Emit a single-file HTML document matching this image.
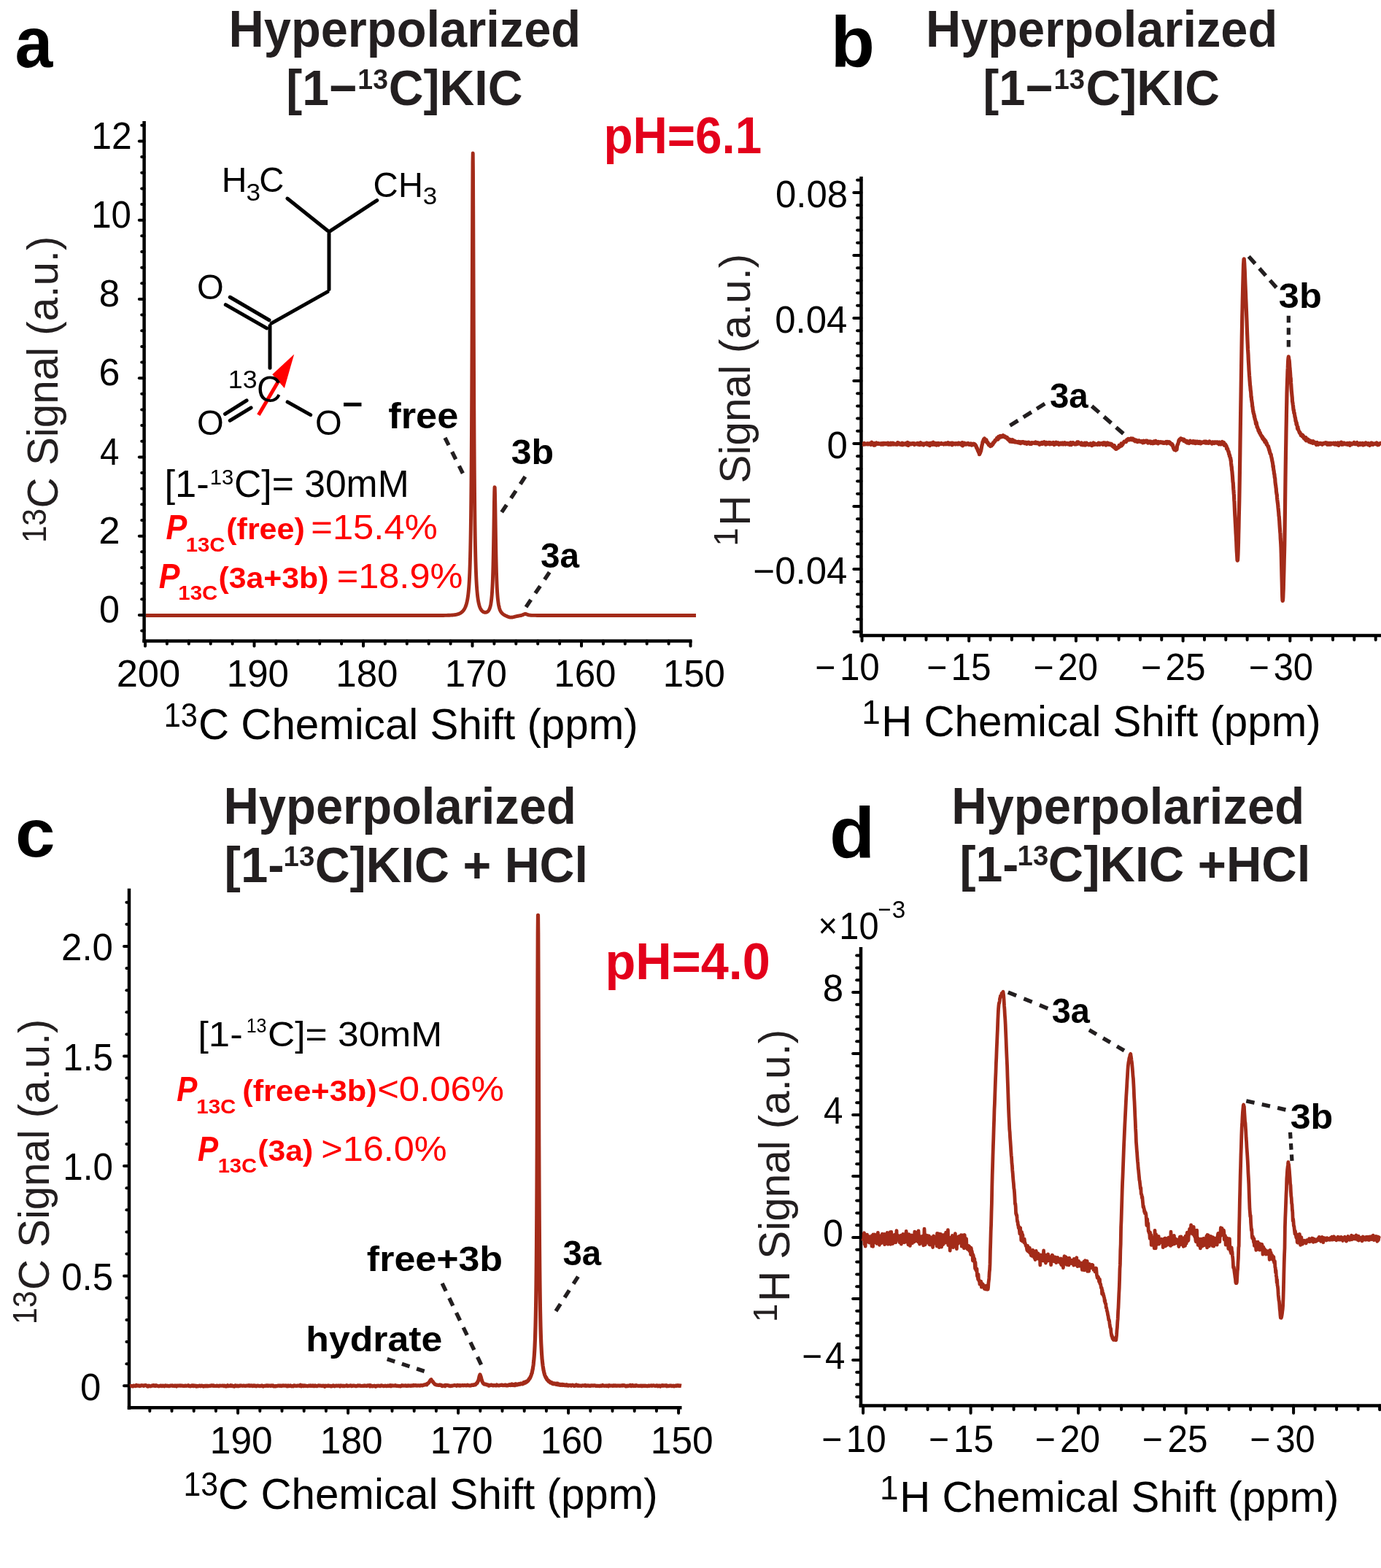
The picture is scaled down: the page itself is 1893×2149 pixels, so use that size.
<!DOCTYPE html>
<html><head><meta charset="utf-8"><title>Hyperpolarized [1-13C]KIC spectra</title>
<style>
html,body{margin:0;padding:0;background:#fff;}
svg{display:block;}
text{font-family:"Liberation Sans", Arial, Helvetica, sans-serif;}
</style></head>
<body>
<svg width="1893" height="2149" viewBox="0 0 1893 2149">
<rect width="1893" height="2149" fill="#fff"/>
<text x="20.51" y="91.91" font-size="98.63" font-weight="bold" textLength="51.80" lengthAdjust="spacingAndGlyphs">a</text>
<text x="313.49" y="63.80" font-size="69.60" font-weight="bold" fill="#231f20" textLength="482.68" lengthAdjust="spacingAndGlyphs">Hyperpolarized</text>
<text x="392.27" y="143.50" font-size="68.50" font-weight="bold" fill="#231f20" textLength="97.32" lengthAdjust="spacingAndGlyphs">[1−</text>
<text x="490.36" y="121.60" font-size="39.00" font-weight="bold" fill="#231f20" textLength="41.64" lengthAdjust="spacingAndGlyphs">13</text>
<text x="532.86" y="143.50" font-size="68.50" font-weight="bold" fill="#231f20" textLength="183.56" lengthAdjust="spacingAndGlyphs">C]KIC</text>
<text x="827.54" y="210.00" font-size="70.00" font-weight="bold" fill="#e3001b" textLength="216.60" lengthAdjust="spacingAndGlyphs">pH=6.1</text>
<line x1="197.60" y1="166.00" x2="197.60" y2="880.50" stroke="#000" stroke-width="4.5" />
<line x1="190.80" y1="842.90" x2="197.60" y2="842.90" stroke="#000" stroke-width="4" stroke-linecap="round"/>
<line x1="190.80" y1="734.66" x2="197.60" y2="734.66" stroke="#000" stroke-width="4" stroke-linecap="round"/>
<line x1="190.80" y1="626.42" x2="197.60" y2="626.42" stroke="#000" stroke-width="4" stroke-linecap="round"/>
<line x1="190.80" y1="518.18" x2="197.60" y2="518.18" stroke="#000" stroke-width="4" stroke-linecap="round"/>
<line x1="190.80" y1="409.94" x2="197.60" y2="409.94" stroke="#000" stroke-width="4" stroke-linecap="round"/>
<line x1="190.80" y1="301.70" x2="197.60" y2="301.70" stroke="#000" stroke-width="4" stroke-linecap="round"/>
<line x1="190.80" y1="193.46" x2="197.60" y2="193.46" stroke="#000" stroke-width="4" stroke-linecap="round"/>
<line x1="194.20" y1="864.55" x2="197.60" y2="864.55" stroke="#000" stroke-width="4" stroke-linecap="round"/>
<line x1="194.20" y1="821.25" x2="197.60" y2="821.25" stroke="#000" stroke-width="4" stroke-linecap="round"/>
<line x1="194.20" y1="799.60" x2="197.60" y2="799.60" stroke="#000" stroke-width="4" stroke-linecap="round"/>
<line x1="194.20" y1="777.96" x2="197.60" y2="777.96" stroke="#000" stroke-width="4" stroke-linecap="round"/>
<line x1="194.20" y1="756.31" x2="197.60" y2="756.31" stroke="#000" stroke-width="4" stroke-linecap="round"/>
<line x1="194.20" y1="713.01" x2="197.60" y2="713.01" stroke="#000" stroke-width="4" stroke-linecap="round"/>
<line x1="194.20" y1="691.36" x2="197.60" y2="691.36" stroke="#000" stroke-width="4" stroke-linecap="round"/>
<line x1="194.20" y1="669.72" x2="197.60" y2="669.72" stroke="#000" stroke-width="4" stroke-linecap="round"/>
<line x1="194.20" y1="648.07" x2="197.60" y2="648.07" stroke="#000" stroke-width="4" stroke-linecap="round"/>
<line x1="194.20" y1="604.77" x2="197.60" y2="604.77" stroke="#000" stroke-width="4" stroke-linecap="round"/>
<line x1="194.20" y1="583.12" x2="197.60" y2="583.12" stroke="#000" stroke-width="4" stroke-linecap="round"/>
<line x1="194.20" y1="561.48" x2="197.60" y2="561.48" stroke="#000" stroke-width="4" stroke-linecap="round"/>
<line x1="194.20" y1="539.83" x2="197.60" y2="539.83" stroke="#000" stroke-width="4" stroke-linecap="round"/>
<line x1="194.20" y1="496.53" x2="197.60" y2="496.53" stroke="#000" stroke-width="4" stroke-linecap="round"/>
<line x1="194.20" y1="474.88" x2="197.60" y2="474.88" stroke="#000" stroke-width="4" stroke-linecap="round"/>
<line x1="194.20" y1="453.24" x2="197.60" y2="453.24" stroke="#000" stroke-width="4" stroke-linecap="round"/>
<line x1="194.20" y1="431.59" x2="197.60" y2="431.59" stroke="#000" stroke-width="4" stroke-linecap="round"/>
<line x1="194.20" y1="388.29" x2="197.60" y2="388.29" stroke="#000" stroke-width="4" stroke-linecap="round"/>
<line x1="194.20" y1="366.64" x2="197.60" y2="366.64" stroke="#000" stroke-width="4" stroke-linecap="round"/>
<line x1="194.20" y1="345.00" x2="197.60" y2="345.00" stroke="#000" stroke-width="4" stroke-linecap="round"/>
<line x1="194.20" y1="323.35" x2="197.60" y2="323.35" stroke="#000" stroke-width="4" stroke-linecap="round"/>
<line x1="194.20" y1="280.05" x2="197.60" y2="280.05" stroke="#000" stroke-width="4" stroke-linecap="round"/>
<line x1="194.20" y1="258.40" x2="197.60" y2="258.40" stroke="#000" stroke-width="4" stroke-linecap="round"/>
<line x1="194.20" y1="236.76" x2="197.60" y2="236.76" stroke="#000" stroke-width="4" stroke-linecap="round"/>
<line x1="194.20" y1="215.11" x2="197.60" y2="215.11" stroke="#000" stroke-width="4" stroke-linecap="round"/>
<line x1="194.20" y1="171.81" x2="197.60" y2="171.81" stroke="#000" stroke-width="4" stroke-linecap="round"/>
<line x1="195.40" y1="878.40" x2="948.50" y2="878.40" stroke="#000" stroke-width="4.5" />
<line x1="199.00" y1="878.40" x2="199.00" y2="885.40" stroke="#000" stroke-width="4" stroke-linecap="round"/>
<line x1="348.50" y1="878.40" x2="348.50" y2="885.40" stroke="#000" stroke-width="4" stroke-linecap="round"/>
<line x1="498.00" y1="878.40" x2="498.00" y2="885.40" stroke="#000" stroke-width="4" stroke-linecap="round"/>
<line x1="647.50" y1="878.40" x2="647.50" y2="885.40" stroke="#000" stroke-width="4" stroke-linecap="round"/>
<line x1="797.00" y1="878.40" x2="797.00" y2="885.40" stroke="#000" stroke-width="4" stroke-linecap="round"/>
<line x1="946.50" y1="878.40" x2="946.50" y2="885.40" stroke="#000" stroke-width="4" stroke-linecap="round"/>
<line x1="228.90" y1="878.40" x2="228.90" y2="882.40" stroke="#000" stroke-width="4" stroke-linecap="round"/>
<line x1="258.80" y1="878.40" x2="258.80" y2="882.40" stroke="#000" stroke-width="4" stroke-linecap="round"/>
<line x1="288.70" y1="878.40" x2="288.70" y2="882.40" stroke="#000" stroke-width="4" stroke-linecap="round"/>
<line x1="318.60" y1="878.40" x2="318.60" y2="882.40" stroke="#000" stroke-width="4" stroke-linecap="round"/>
<line x1="378.40" y1="878.40" x2="378.40" y2="882.40" stroke="#000" stroke-width="4" stroke-linecap="round"/>
<line x1="408.30" y1="878.40" x2="408.30" y2="882.40" stroke="#000" stroke-width="4" stroke-linecap="round"/>
<line x1="438.20" y1="878.40" x2="438.20" y2="882.40" stroke="#000" stroke-width="4" stroke-linecap="round"/>
<line x1="468.10" y1="878.40" x2="468.10" y2="882.40" stroke="#000" stroke-width="4" stroke-linecap="round"/>
<line x1="527.90" y1="878.40" x2="527.90" y2="882.40" stroke="#000" stroke-width="4" stroke-linecap="round"/>
<line x1="557.80" y1="878.40" x2="557.80" y2="882.40" stroke="#000" stroke-width="4" stroke-linecap="round"/>
<line x1="587.70" y1="878.40" x2="587.70" y2="882.40" stroke="#000" stroke-width="4" stroke-linecap="round"/>
<line x1="617.60" y1="878.40" x2="617.60" y2="882.40" stroke="#000" stroke-width="4" stroke-linecap="round"/>
<line x1="677.40" y1="878.40" x2="677.40" y2="882.40" stroke="#000" stroke-width="4" stroke-linecap="round"/>
<line x1="707.30" y1="878.40" x2="707.30" y2="882.40" stroke="#000" stroke-width="4" stroke-linecap="round"/>
<line x1="737.20" y1="878.40" x2="737.20" y2="882.40" stroke="#000" stroke-width="4" stroke-linecap="round"/>
<line x1="767.10" y1="878.40" x2="767.10" y2="882.40" stroke="#000" stroke-width="4" stroke-linecap="round"/>
<line x1="826.90" y1="878.40" x2="826.90" y2="882.40" stroke="#000" stroke-width="4" stroke-linecap="round"/>
<line x1="856.80" y1="878.40" x2="856.80" y2="882.40" stroke="#000" stroke-width="4" stroke-linecap="round"/>
<line x1="886.70" y1="878.40" x2="886.70" y2="882.40" stroke="#000" stroke-width="4" stroke-linecap="round"/>
<line x1="916.60" y1="878.40" x2="916.60" y2="882.40" stroke="#000" stroke-width="4" stroke-linecap="round"/>
<text x="135.99" y="853.10" font-size="51.00" textLength="27.95" lengthAdjust="spacingAndGlyphs">0</text>
<text x="135.36" y="744.86" font-size="51.00" textLength="29.34" lengthAdjust="spacingAndGlyphs">2</text>
<text x="136.93" y="636.62" font-size="51.00" textLength="26.43" lengthAdjust="spacingAndGlyphs">4</text>
<text x="135.41" y="528.38" font-size="51.00" textLength="28.86" lengthAdjust="spacingAndGlyphs">6</text>
<text x="135.83" y="420.14" font-size="51.00" textLength="28.40" lengthAdjust="spacingAndGlyphs">8</text>
<text x="125.21" y="312.30" font-size="51.00" textLength="54.75" lengthAdjust="spacingAndGlyphs">10</text>
<text x="125.16" y="204.06" font-size="51.00" textLength="55.45" lengthAdjust="spacingAndGlyphs">12</text>
<text x="159.67" y="940.60" font-size="52.00" textLength="87.65" lengthAdjust="spacingAndGlyphs">200</text>
<text x="310.77" y="940.60" font-size="52.00" textLength="85.20" lengthAdjust="spacingAndGlyphs">190</text>
<text x="460.27" y="940.60" font-size="52.00" textLength="85.20" lengthAdjust="spacingAndGlyphs">180</text>
<text x="609.77" y="940.60" font-size="52.00" textLength="85.20" lengthAdjust="spacingAndGlyphs">170</text>
<text x="759.27" y="940.60" font-size="52.00" textLength="85.20" lengthAdjust="spacingAndGlyphs">160</text>
<text x="908.77" y="940.60" font-size="52.00" textLength="85.20" lengthAdjust="spacingAndGlyphs">150</text>
<text x="224.79" y="995.80" font-size="46.00" textLength="46.17" lengthAdjust="spacingAndGlyphs">13</text>
<text x="271.98" y="1012.80" font-size="60.00" textLength="602.69" lengthAdjust="spacingAndGlyphs">C Chemical Shift (ppm)</text>
<text transform="translate(79.10 693.50) rotate(-90)" x="-2.92" y="0" font-size="60.00" fill="#231f20" textLength="372.88" lengthAdjust="spacingAndGlyphs">C Signal (a.u.)</text>
<text transform="translate(62.60 740.90) rotate(-90)" x="-3.17" y="0" font-size="46.00" fill="#231f20" textLength="47.07" lengthAdjust="spacingAndGlyphs">13</text>
<path d="M200.00 843.50 L202.00 843.50 L204.00 843.50 L206.00 843.50 L208.00 843.50 L210.00 843.50 L212.00 843.50 L214.00 843.50 L216.00 843.50 L218.00 843.50 L220.00 843.50 L222.00 843.50 L224.00 843.50 L226.00 843.50 L228.00 843.50 L230.00 843.50 L232.00 843.50 L234.00 843.50 L236.00 843.50 L238.00 843.50 L240.00 843.50 L242.00 843.50 L244.00 843.50 L246.00 843.50 L248.00 843.50 L250.00 843.50 L252.00 843.50 L254.00 843.50 L256.00 843.50 L258.00 843.50 L260.00 843.50 L262.00 843.50 L264.00 843.50 L266.00 843.50 L268.00 843.50 L270.00 843.50 L272.00 843.50 L274.00 843.50 L276.00 843.50 L278.00 843.50 L280.00 843.50 L282.00 843.50 L284.00 843.50 L286.00 843.50 L288.00 843.50 L290.00 843.50 L292.00 843.50 L294.00 843.50 L296.00 843.50 L298.00 843.50 L300.00 843.50 L302.00 843.50 L304.00 843.50 L306.00 843.50 L308.00 843.50 L310.00 843.50 L312.00 843.50 L314.00 843.50 L316.00 843.50 L318.00 843.50 L320.00 843.50 L322.00 843.50 L324.00 843.50 L326.00 843.50 L328.00 843.50 L330.00 843.50 L332.00 843.50 L334.00 843.50 L336.00 843.50 L338.00 843.50 L340.00 843.50 L342.00 843.50 L344.00 843.50 L346.00 843.50 L348.00 843.50 L350.00 843.50 L352.00 843.50 L354.00 843.50 L356.00 843.50 L358.00 843.50 L360.00 843.50 L362.00 843.50 L364.00 843.50 L366.00 843.50 L368.00 843.50 L370.00 843.50 L372.00 843.50 L374.00 843.50 L376.00 843.50 L378.00 843.50 L380.00 843.50 L382.00 843.50 L384.00 843.50 L386.00 843.50 L388.00 843.50 L390.00 843.50 L392.00 843.50 L394.00 843.50 L396.00 843.50 L398.00 843.50 L400.00 843.50 L402.00 843.50 L404.00 843.50 L406.00 843.50 L408.00 843.50 L410.00 843.50 L412.00 843.50 L414.00 843.50 L416.00 843.50 L418.00 843.50 L420.00 843.50 L422.00 843.50 L424.00 843.50 L426.00 843.50 L428.00 843.50 L430.00 843.50 L432.00 843.50 L434.00 843.50 L436.00 843.50 L438.00 843.50 L440.00 843.50 L442.00 843.50 L444.00 843.50 L446.00 843.50 L448.00 843.50 L450.00 843.50 L452.00 843.50 L454.00 843.50 L456.00 843.50 L458.00 843.50 L460.00 843.50 L462.00 843.50 L464.00 843.50 L466.00 843.50 L468.00 843.50 L470.00 843.50 L472.00 843.50 L474.00 843.50 L476.00 843.50 L478.00 843.50 L480.00 843.50 L482.00 843.50 L484.00 843.50 L486.00 843.50 L488.00 843.50 L490.00 843.50 L492.00 843.50 L494.00 843.50 L496.00 843.50 L498.00 843.50 L500.00 843.50 L502.00 843.50 L504.00 843.50 L506.00 843.50 L508.00 843.50 L510.00 843.50 L512.00 843.50 L514.00 843.50 L516.00 843.50 L518.00 843.50 L520.00 843.50 L522.00 843.50 L524.00 843.50 L526.00 843.50 L528.00 843.50 L530.00 843.50 L532.00 843.50 L534.00 843.50 L536.00 843.50 L538.00 843.50 L540.00 843.50 L542.00 843.50 L544.00 843.50 L546.00 843.50 L548.00 843.50 L550.00 843.50 L552.00 843.50 L554.00 843.50 L556.00 843.50 L558.00 843.50 L560.00 843.50 L562.00 843.50 L564.00 843.50 L566.00 843.50 L568.00 843.50 L570.00 843.50 L572.00 843.50 L574.00 843.50 L576.00 843.50 L578.00 843.50 L580.00 843.50 L582.00 843.50 L584.00 843.50 L586.00 843.50 L588.00 843.50 L590.00 843.50 L592.00 843.49 L594.00 843.49 L596.00 843.49 L598.00 843.48 L600.00 843.48 L602.00 843.47 L604.00 843.46 L606.00 843.45 L608.00 843.43 L610.00 843.40 L612.00 843.37 L614.00 843.32 L616.00 843.25 L618.00 843.16 L620.00 843.02 L620.25 843.00 L620.50 842.98 L620.75 842.96 L621.00 842.93 L621.25 842.91 L621.50 842.88 L621.75 842.86 L622.00 842.83 L622.25 842.80 L622.50 842.77 L622.75 842.74 L623.00 842.71 L623.25 842.67 L623.50 842.64 L623.75 842.60 L624.00 842.56 L624.25 842.52 L624.50 842.48 L624.75 842.43 L625.00 842.38 L625.25 842.34 L625.50 842.28 L625.75 842.23 L626.00 842.17 L626.25 842.12 L626.50 842.05 L626.75 841.99 L627.00 841.92 L627.25 841.85 L627.50 841.78 L627.75 841.70 L628.00 841.62 L628.25 841.54 L628.50 841.45 L628.75 841.36 L629.00 841.26 L629.25 841.16 L629.50 841.05 L629.75 840.94 L630.00 840.82 L630.25 840.70 L630.50 840.57 L630.75 840.44 L631.00 840.30 L631.25 840.15 L631.50 840.00 L631.75 839.84 L632.00 839.67 L632.25 839.49 L632.50 839.30 L632.75 839.11 L633.00 838.90 L633.25 838.69 L633.50 838.46 L633.75 838.22 L634.00 837.97 L634.25 837.71 L634.50 837.44 L634.75 837.15 L635.00 836.84 L635.25 836.53 L635.50 836.19 L635.75 835.84 L636.00 835.47 L636.25 835.08 L636.50 834.67 L636.75 834.23 L637.00 833.77 L637.25 833.29 L637.50 832.78 L637.75 832.24 L638.00 831.66 L638.25 831.05 L638.50 830.39 L638.75 829.70 L639.00 828.95 L639.25 828.15 L639.50 827.28 L639.75 826.35 L640.00 825.34 L640.25 824.24 L640.50 823.04 L640.75 821.72 L641.00 820.28 L641.25 818.69 L641.50 816.92 L641.75 814.97 L642.00 812.78 L642.25 810.33 L642.50 807.56 L642.75 804.44 L643.00 800.89 L643.25 796.84 L643.50 792.18 L643.75 786.80 L644.00 780.55 L644.25 773.24 L644.50 764.64 L644.75 754.43 L645.00 742.25 L645.25 727.58 L645.50 709.79 L645.75 688.06 L646.00 661.36 L646.25 628.41 L646.50 587.77 L646.75 537.99 L647.00 478.25 L647.25 409.45 L647.50 336.17 L647.75 268.56 L648.00 221.77 L648.25 209.90 L648.50 237.06 L648.75 294.23 L649.00 365.80 L649.25 438.25 L649.50 503.82 L649.75 559.64 L650.00 605.70 L650.25 643.17 L650.50 673.55 L650.75 698.21 L651.00 718.34 L651.25 734.88 L651.50 748.58 L651.75 760.00 L652.00 769.61 L652.25 777.75 L652.50 784.69 L652.75 790.65 L653.00 795.80 L653.25 800.28 L653.50 804.19 L653.75 807.63 L654.00 810.66 L654.25 813.35 L654.50 815.75 L654.75 817.89 L655.00 819.80 L655.25 821.53 L655.50 823.09 L655.75 824.50 L656.00 825.78 L656.25 826.94 L656.50 828.00 L656.75 828.97 L657.00 829.86 L657.25 830.67 L657.50 831.42 L657.75 832.11 L658.00 832.75 L658.25 833.33 L658.50 833.87 L658.75 834.37 L659.00 834.83 L659.25 835.26 L659.50 835.65 L659.75 836.02 L660.00 836.36 L660.25 836.67 L660.50 836.96 L660.75 837.23 L661.00 837.48 L661.25 837.70 L661.50 837.91 L661.75 838.11 L662.00 838.28 L662.25 838.44 L662.50 838.59 L662.75 838.72 L663.00 838.84 L663.25 838.94 L663.50 839.03 L663.75 839.11 L664.00 839.18 L664.25 839.23 L664.50 839.27 L664.75 839.30 L665.00 839.32 L665.25 839.33 L665.50 839.32 L665.75 839.30 L666.00 839.27 L666.25 839.22 L666.50 839.16 L666.75 839.09 L667.00 839.00 L667.25 838.90 L667.50 838.78 L667.75 838.64 L668.00 838.49 L668.25 838.31 L668.50 838.11 L668.75 837.89 L669.00 837.65 L669.25 837.37 L669.50 837.07 L669.75 836.73 L670.00 836.36 L670.25 835.94 L670.50 835.48 L670.75 834.97 L671.00 834.40 L671.25 833.77 L671.50 833.06 L671.75 832.27 L672.00 831.38 L672.25 830.39 L672.50 829.26 L672.75 827.99 L673.00 826.55 L673.25 824.91 L673.50 823.02 L673.75 820.86 L674.00 818.36 L674.25 815.46 L674.50 812.08 L674.75 808.11 L675.00 803.44 L675.25 797.91 L675.50 791.34 L675.75 783.53 L676.00 774.24 L676.25 763.25 L676.50 750.39 L676.75 735.65 L677.00 719.38 L677.25 702.49 L677.50 686.64 L677.75 674.19 L678.00 667.59 L678.25 668.37 L678.50 676.33 L678.75 689.70 L679.00 705.95 L679.25 722.86 L679.50 738.91 L679.75 753.31 L680.00 765.82 L680.25 776.49 L680.50 785.50 L680.75 793.07 L681.00 799.45 L681.25 804.83 L681.50 809.38 L681.75 813.26 L682.00 816.58 L682.25 819.43 L682.50 821.90 L682.75 824.04 L683.00 825.91 L683.25 827.56 L683.50 829.01 L683.75 830.29 L684.00 831.44 L684.25 832.46 L684.50 833.37 L684.75 834.20 L685.00 834.94 L685.25 835.62 L685.50 836.24 L685.75 836.80 L686.00 837.31 L686.25 837.78 L686.50 838.22 L686.75 838.62 L687.00 838.99 L687.25 839.34 L687.50 839.66 L687.75 839.96 L688.00 840.24 L688.25 840.50 L688.50 840.75 L688.75 840.99 L689.00 841.21 L689.25 841.42 L689.50 841.62 L689.75 841.81 L690.00 841.99 L690.25 842.16 L690.50 842.33 L690.75 842.49 L691.00 842.65 L691.25 842.80 L691.50 842.94 L691.75 843.08 L692.00 843.22 L692.25 843.35 L692.50 843.48 L692.75 843.61 L693.00 843.74 L693.25 843.86 L693.50 843.98 L693.75 844.10 L694.00 844.22 L694.25 844.34 L694.50 844.45 L694.75 844.56 L695.00 844.67 L695.25 844.78 L695.50 844.89 L695.75 844.99 L696.00 845.10 L696.25 845.20 L696.50 845.29 L696.75 845.39 L697.00 845.48 L697.25 845.56 L697.50 845.64 L697.75 845.72 L698.00 845.79 L698.25 845.86 L698.50 845.92 L698.75 845.97 L699.00 846.02 L699.25 846.06 L699.50 846.09 L699.75 846.11 L700.00 846.13 L702.00 846.03 L704.00 845.62 L706.00 845.12 L708.00 844.65 L710.00 844.26 L712.00 843.91 L714.00 843.53 L716.00 842.99 L718.00 842.06 L720.00 841.21 L722.00 841.93 L724.00 842.72 L726.00 843.09 L728.00 843.26 L730.00 843.35 L732.00 843.40 L734.00 843.42 L736.00 843.44 L738.00 843.45 L740.00 843.46 L742.00 843.47 L744.00 843.47 L746.00 843.48 L748.00 843.48 L750.00 843.48 L752.00 843.49 L754.00 843.49 L756.00 843.49 L758.00 843.49 L760.00 843.49 L762.00 843.49 L764.00 843.49 L766.00 843.50 L768.00 843.50 L770.00 843.50 L772.00 843.50 L774.00 843.50 L776.00 843.50 L778.00 843.50 L780.00 843.50 L782.00 843.50 L784.00 843.50 L786.00 843.50 L788.00 843.50 L790.00 843.50 L792.00 843.50 L794.00 843.50 L796.00 843.50 L798.00 843.50 L800.00 843.50 L802.00 843.50 L804.00 843.50 L806.00 843.50 L808.00 843.50 L810.00 843.50 L812.00 843.50 L814.00 843.50 L816.00 843.50 L818.00 843.50 L820.00 843.50 L822.00 843.50 L824.00 843.50 L826.00 843.50 L828.00 843.50 L830.00 843.50 L832.00 843.50 L834.00 843.50 L836.00 843.50 L838.00 843.50 L840.00 843.50 L842.00 843.50 L844.00 843.50 L846.00 843.50 L848.00 843.50 L850.00 843.50 L852.00 843.50 L854.00 843.50 L856.00 843.50 L858.00 843.50 L860.00 843.50 L862.00 843.50 L864.00 843.50 L866.00 843.50 L868.00 843.50 L870.00 843.50 L872.00 843.50 L874.00 843.50 L876.00 843.50 L878.00 843.50 L880.00 843.50 L882.00 843.50 L884.00 843.50 L886.00 843.50 L888.00 843.50 L890.00 843.50 L892.00 843.50 L894.00 843.50 L896.00 843.50 L898.00 843.50 L900.00 843.50 L902.00 843.50 L904.00 843.50 L906.00 843.50 L908.00 843.50 L910.00 843.50 L912.00 843.50 L914.00 843.50 L916.00 843.50 L918.00 843.50 L920.00 843.50 L922.00 843.50 L924.00 843.50 L926.00 843.50 L928.00 843.50 L930.00 843.50 L932.00 843.50 L934.00 843.50 L936.00 843.50 L938.00 843.50 L940.00 843.50 L942.00 843.50 L944.00 843.50 L946.00 843.50 L948.00 843.50 L950.00 843.50 L952.00 843.50 L954.00 843.50" fill="none" stroke="#a32b19" stroke-width="4.9" stroke-linejoin="round"/>
<line x1="393.90" y1="272.04" x2="449.20" y2="316.26" stroke="#000" stroke-width="5" stroke-linecap="round"/>
<line x1="452.92" y1="316.44" x2="516.78" y2="274.56" stroke="#000" stroke-width="5" stroke-linecap="round"/>
<line x1="451.00" y1="320.00" x2="451.00" y2="396.50" stroke="#000" stroke-width="5" stroke-linecap="round"/>
<line x1="448.99" y1="399.93" x2="372.01" y2="443.17" stroke="#000" stroke-width="5" stroke-linecap="round"/>
<line x1="315.28" y1="407.26" x2="369.02" y2="438.74" stroke="#000" stroke-width="5" stroke-linecap="round"/>
<line x1="309.30" y1="417.64" x2="365.70" y2="449.86" stroke="#000" stroke-width="5" stroke-linecap="round"/>
<line x1="370.00" y1="446.60" x2="370.00" y2="504.20" stroke="#000" stroke-width="5" stroke-linecap="round"/>
<line x1="308.54" y1="567.47" x2="338.06" y2="548.83" stroke="#000" stroke-width="5" stroke-linecap="round"/>
<line x1="315.26" y1="576.40" x2="344.04" y2="558.80" stroke="#000" stroke-width="5" stroke-linecap="round"/>
<line x1="394.11" y1="550.93" x2="425.69" y2="568.67" stroke="#000" stroke-width="5" stroke-linecap="round"/>
<line x1="354.4" y1="568.7" x2="381" y2="523.5" stroke="#ff0000" stroke-width="5"/>
<polygon points="403.2,485.4 373.3,513.2 389.9,532" fill="#ff0000"/>
<text x="303.73" y="262.60" font-size="49.00" textLength="34.72" lengthAdjust="spacingAndGlyphs">H</text>
<text x="337.48" y="275.00" font-size="33.00" textLength="19.55" lengthAdjust="spacingAndGlyphs">3</text>
<text x="355.34" y="262.60" font-size="49.00" textLength="34.12" lengthAdjust="spacingAndGlyphs">C</text>
<text x="511.53" y="269.50" font-size="49.00" textLength="34.23" lengthAdjust="spacingAndGlyphs">C</text>
<text x="545.92" y="269.50" font-size="49.00" textLength="33.94" lengthAdjust="spacingAndGlyphs">H</text>
<text x="579.69" y="280.40" font-size="33.00" textLength="19.44" lengthAdjust="spacingAndGlyphs">3</text>
<text x="269.96" y="409.50" font-size="48.50" textLength="36.70" lengthAdjust="spacingAndGlyphs">O</text>
<text x="269.96" y="596.00" font-size="48.50" textLength="36.70" lengthAdjust="spacingAndGlyphs">O</text>
<text x="432.06" y="596.00" font-size="48.50" textLength="36.70" lengthAdjust="spacingAndGlyphs">O</text>
<text x="312.82" y="532.00" font-size="34.50" textLength="39.79" lengthAdjust="spacingAndGlyphs">13</text>
<text x="352.04" y="550.50" font-size="50.00" textLength="34.12" lengthAdjust="spacingAndGlyphs">C</text>
<text x="468.93" y="569.50" font-size="47.00" font-weight="bold" textLength="28.50" lengthAdjust="spacingAndGlyphs">−</text>
<text x="532.28" y="586.60" font-size="50.00" font-weight="bold" textLength="96.02" lengthAdjust="spacingAndGlyphs">free</text>
<text x="700.77" y="636.40" font-size="49.00" font-weight="bold" textLength="58.43" lengthAdjust="spacingAndGlyphs">3b</text>
<text x="741.03" y="777.60" font-size="49.00" font-weight="bold" textLength="53.03" lengthAdjust="spacingAndGlyphs">3a</text>
<line x1="610.00" y1="600.00" x2="634.40" y2="648.80" stroke="#231f20" stroke-width="5.4" stroke-dasharray="11.32 10.29"/>
<line x1="719.90" y1="653.30" x2="687.70" y2="702.10" stroke="#231f20" stroke-width="5.4" stroke-dasharray="12.13 11.03"/>
<line x1="753.20" y1="784.30" x2="721.00" y2="832.00" stroke="#231f20" stroke-width="5.4" stroke-dasharray="11.94 10.86"/>
<text x="225.42" y="681.30" font-size="51.00" textLength="61.28" lengthAdjust="spacingAndGlyphs">[1-</text>
<text x="287.81" y="663.60" font-size="30.00" textLength="32.50" lengthAdjust="spacingAndGlyphs">13</text>
<text x="321.02" y="681.30" font-size="51.00" textLength="239.66" lengthAdjust="spacingAndGlyphs">C]= 30mM</text>
<text x="227.54" y="738.70" font-size="49.00" font-weight="bold" font-style="italic" fill="#ff0000" textLength="28.83" lengthAdjust="spacingAndGlyphs">P</text>
<text x="254.77" y="755.60" font-size="28.00" font-weight="bold" fill="#ff0000" textLength="53.72" lengthAdjust="spacingAndGlyphs">13C</text>
<text x="310.25" y="738.70" font-size="40.00" font-weight="bold" fill="#ff0000" textLength="107.52" lengthAdjust="spacingAndGlyphs">(free)</text>
<text x="426.29" y="738.70" font-size="49.00" fill="#ff0000" textLength="173.46" lengthAdjust="spacingAndGlyphs">=15.4%</text>
<text x="217.85" y="805.90" font-size="49.00" font-weight="bold" font-style="italic" fill="#ff0000" textLength="28.73" lengthAdjust="spacingAndGlyphs">P</text>
<text x="244.36" y="821.80" font-size="28.00" font-weight="bold" fill="#ff0000" textLength="53.93" lengthAdjust="spacingAndGlyphs">13C</text>
<text x="299.46" y="805.90" font-size="40.00" font-weight="bold" fill="#ff0000" textLength="151.05" lengthAdjust="spacingAndGlyphs">(3a+3b)</text>
<text x="461.70" y="805.90" font-size="49.00" fill="#ff0000" textLength="172.74" lengthAdjust="spacingAndGlyphs">=18.9%</text>
<text x="1138.79" y="91.02" font-size="98.10" font-weight="bold" textLength="60.24" lengthAdjust="spacingAndGlyphs">b</text>
<text x="1268.99" y="64.00" font-size="69.60" font-weight="bold" fill="#231f20" textLength="482.27" lengthAdjust="spacingAndGlyphs">Hyperpolarized</text>
<text x="1347.51" y="143.50" font-size="68.50" font-weight="bold" fill="#231f20" textLength="96.14" lengthAdjust="spacingAndGlyphs">[1−</text>
<text x="1444.50" y="121.60" font-size="39.00" font-weight="bold" fill="#231f20" textLength="42.63" lengthAdjust="spacingAndGlyphs">13</text>
<text x="1488.56" y="143.50" font-size="68.50" font-weight="bold" fill="#231f20" textLength="183.25" lengthAdjust="spacingAndGlyphs">C]KIC</text>
<line x1="1180.50" y1="242.00" x2="1180.50" y2="873.40" stroke="#000" stroke-width="4.5" />
<line x1="1170.30" y1="866.00" x2="1180.50" y2="866.00" stroke="#000" stroke-width="4" stroke-linecap="round"/>
<line x1="1170.30" y1="780.00" x2="1180.50" y2="780.00" stroke="#000" stroke-width="4" stroke-linecap="round"/>
<line x1="1170.30" y1="694.00" x2="1180.50" y2="694.00" stroke="#000" stroke-width="4" stroke-linecap="round"/>
<line x1="1170.30" y1="608.00" x2="1180.50" y2="608.00" stroke="#000" stroke-width="4" stroke-linecap="round"/>
<line x1="1170.30" y1="522.00" x2="1180.50" y2="522.00" stroke="#000" stroke-width="4" stroke-linecap="round"/>
<line x1="1170.30" y1="436.00" x2="1180.50" y2="436.00" stroke="#000" stroke-width="4" stroke-linecap="round"/>
<line x1="1170.30" y1="350.00" x2="1180.50" y2="350.00" stroke="#000" stroke-width="4" stroke-linecap="round"/>
<line x1="1170.30" y1="264.00" x2="1180.50" y2="264.00" stroke="#000" stroke-width="4" stroke-linecap="round"/>
<line x1="1175.10" y1="848.80" x2="1180.50" y2="848.80" stroke="#000" stroke-width="4" stroke-linecap="round"/>
<line x1="1175.10" y1="831.60" x2="1180.50" y2="831.60" stroke="#000" stroke-width="4" stroke-linecap="round"/>
<line x1="1175.10" y1="814.40" x2="1180.50" y2="814.40" stroke="#000" stroke-width="4" stroke-linecap="round"/>
<line x1="1175.10" y1="797.20" x2="1180.50" y2="797.20" stroke="#000" stroke-width="4" stroke-linecap="round"/>
<line x1="1175.10" y1="762.80" x2="1180.50" y2="762.80" stroke="#000" stroke-width="4" stroke-linecap="round"/>
<line x1="1175.10" y1="745.60" x2="1180.50" y2="745.60" stroke="#000" stroke-width="4" stroke-linecap="round"/>
<line x1="1175.10" y1="728.40" x2="1180.50" y2="728.40" stroke="#000" stroke-width="4" stroke-linecap="round"/>
<line x1="1175.10" y1="711.20" x2="1180.50" y2="711.20" stroke="#000" stroke-width="4" stroke-linecap="round"/>
<line x1="1175.10" y1="676.80" x2="1180.50" y2="676.80" stroke="#000" stroke-width="4" stroke-linecap="round"/>
<line x1="1175.10" y1="659.60" x2="1180.50" y2="659.60" stroke="#000" stroke-width="4" stroke-linecap="round"/>
<line x1="1175.10" y1="642.40" x2="1180.50" y2="642.40" stroke="#000" stroke-width="4" stroke-linecap="round"/>
<line x1="1175.10" y1="625.20" x2="1180.50" y2="625.20" stroke="#000" stroke-width="4" stroke-linecap="round"/>
<line x1="1175.10" y1="590.80" x2="1180.50" y2="590.80" stroke="#000" stroke-width="4" stroke-linecap="round"/>
<line x1="1175.10" y1="573.60" x2="1180.50" y2="573.60" stroke="#000" stroke-width="4" stroke-linecap="round"/>
<line x1="1175.10" y1="556.40" x2="1180.50" y2="556.40" stroke="#000" stroke-width="4" stroke-linecap="round"/>
<line x1="1175.10" y1="539.20" x2="1180.50" y2="539.20" stroke="#000" stroke-width="4" stroke-linecap="round"/>
<line x1="1175.10" y1="504.80" x2="1180.50" y2="504.80" stroke="#000" stroke-width="4" stroke-linecap="round"/>
<line x1="1175.10" y1="487.60" x2="1180.50" y2="487.60" stroke="#000" stroke-width="4" stroke-linecap="round"/>
<line x1="1175.10" y1="470.40" x2="1180.50" y2="470.40" stroke="#000" stroke-width="4" stroke-linecap="round"/>
<line x1="1175.10" y1="453.20" x2="1180.50" y2="453.20" stroke="#000" stroke-width="4" stroke-linecap="round"/>
<line x1="1175.10" y1="418.80" x2="1180.50" y2="418.80" stroke="#000" stroke-width="4" stroke-linecap="round"/>
<line x1="1175.10" y1="401.60" x2="1180.50" y2="401.60" stroke="#000" stroke-width="4" stroke-linecap="round"/>
<line x1="1175.10" y1="384.40" x2="1180.50" y2="384.40" stroke="#000" stroke-width="4" stroke-linecap="round"/>
<line x1="1175.10" y1="367.20" x2="1180.50" y2="367.20" stroke="#000" stroke-width="4" stroke-linecap="round"/>
<line x1="1175.10" y1="332.80" x2="1180.50" y2="332.80" stroke="#000" stroke-width="4" stroke-linecap="round"/>
<line x1="1175.10" y1="315.60" x2="1180.50" y2="315.60" stroke="#000" stroke-width="4" stroke-linecap="round"/>
<line x1="1175.10" y1="298.40" x2="1180.50" y2="298.40" stroke="#000" stroke-width="4" stroke-linecap="round"/>
<line x1="1175.10" y1="281.20" x2="1180.50" y2="281.20" stroke="#000" stroke-width="4" stroke-linecap="round"/>
<line x1="1175.10" y1="246.80" x2="1180.50" y2="246.80" stroke="#000" stroke-width="4" stroke-linecap="round"/>
<line x1="1178.30" y1="871.10" x2="1893.00" y2="871.10" stroke="#000" stroke-width="4.5" />
<line x1="1181.50" y1="871.10" x2="1181.50" y2="878.40" stroke="#000" stroke-width="4" stroke-linecap="round"/>
<line x1="1328.20" y1="871.10" x2="1328.20" y2="878.40" stroke="#000" stroke-width="4" stroke-linecap="round"/>
<line x1="1474.90" y1="871.10" x2="1474.90" y2="878.40" stroke="#000" stroke-width="4" stroke-linecap="round"/>
<line x1="1621.60" y1="871.10" x2="1621.60" y2="878.40" stroke="#000" stroke-width="4" stroke-linecap="round"/>
<line x1="1768.30" y1="871.10" x2="1768.30" y2="878.40" stroke="#000" stroke-width="4" stroke-linecap="round"/>
<line x1="1210.84" y1="871.10" x2="1210.84" y2="877.00" stroke="#000" stroke-width="4" stroke-linecap="round"/>
<line x1="1240.18" y1="871.10" x2="1240.18" y2="877.00" stroke="#000" stroke-width="4" stroke-linecap="round"/>
<line x1="1269.52" y1="871.10" x2="1269.52" y2="877.00" stroke="#000" stroke-width="4" stroke-linecap="round"/>
<line x1="1298.86" y1="871.10" x2="1298.86" y2="877.00" stroke="#000" stroke-width="4" stroke-linecap="round"/>
<line x1="1357.54" y1="871.10" x2="1357.54" y2="877.00" stroke="#000" stroke-width="4" stroke-linecap="round"/>
<line x1="1386.88" y1="871.10" x2="1386.88" y2="877.00" stroke="#000" stroke-width="4" stroke-linecap="round"/>
<line x1="1416.22" y1="871.10" x2="1416.22" y2="877.00" stroke="#000" stroke-width="4" stroke-linecap="round"/>
<line x1="1445.56" y1="871.10" x2="1445.56" y2="877.00" stroke="#000" stroke-width="4" stroke-linecap="round"/>
<line x1="1504.24" y1="871.10" x2="1504.24" y2="877.00" stroke="#000" stroke-width="4" stroke-linecap="round"/>
<line x1="1533.58" y1="871.10" x2="1533.58" y2="877.00" stroke="#000" stroke-width="4" stroke-linecap="round"/>
<line x1="1562.92" y1="871.10" x2="1562.92" y2="877.00" stroke="#000" stroke-width="4" stroke-linecap="round"/>
<line x1="1592.26" y1="871.10" x2="1592.26" y2="877.00" stroke="#000" stroke-width="4" stroke-linecap="round"/>
<line x1="1650.94" y1="871.10" x2="1650.94" y2="877.00" stroke="#000" stroke-width="4" stroke-linecap="round"/>
<line x1="1680.28" y1="871.10" x2="1680.28" y2="877.00" stroke="#000" stroke-width="4" stroke-linecap="round"/>
<line x1="1709.62" y1="871.10" x2="1709.62" y2="877.00" stroke="#000" stroke-width="4" stroke-linecap="round"/>
<line x1="1738.96" y1="871.10" x2="1738.96" y2="877.00" stroke="#000" stroke-width="4" stroke-linecap="round"/>
<line x1="1797.64" y1="871.10" x2="1797.64" y2="877.00" stroke="#000" stroke-width="4" stroke-linecap="round"/>
<line x1="1826.98" y1="871.10" x2="1826.98" y2="877.00" stroke="#000" stroke-width="4" stroke-linecap="round"/>
<line x1="1856.32" y1="871.10" x2="1856.32" y2="877.00" stroke="#000" stroke-width="4" stroke-linecap="round"/>
<line x1="1885.66" y1="871.10" x2="1885.66" y2="877.00" stroke="#000" stroke-width="4" stroke-linecap="round"/>
<text x="1062.96" y="284.20" font-size="51.00" textLength="99.17" lengthAdjust="spacingAndGlyphs">0.08</text>
<text x="1062.20" y="456.20" font-size="51.00" textLength="99.17" lengthAdjust="spacingAndGlyphs">0.04</text>
<text x="1133.53" y="628.20" font-size="51.00" textLength="28.34" lengthAdjust="spacingAndGlyphs">0</text>
<text x="1032.39" y="800.20" font-size="51.00" textLength="128.93" lengthAdjust="spacingAndGlyphs">−0.04</text>
<text x="1117.50" y="932.40" font-size="51.00" textLength="28.06" lengthAdjust="spacingAndGlyphs">−</text>
<text x="1150.89" y="932.40" font-size="51.00" textLength="54.98" lengthAdjust="spacingAndGlyphs">10</text>
<text x="1270.50" y="932.40" font-size="51.00" textLength="28.06" lengthAdjust="spacingAndGlyphs">−</text>
<text x="1303.48" y="932.40" font-size="51.00" textLength="55.11" lengthAdjust="spacingAndGlyphs">15</text>
<text x="1416.80" y="932.40" font-size="51.00" textLength="28.06" lengthAdjust="spacingAndGlyphs">−</text>
<text x="1449.93" y="932.40" font-size="51.00" textLength="54.94" lengthAdjust="spacingAndGlyphs">20</text>
<text x="1564.30" y="932.40" font-size="51.00" textLength="28.06" lengthAdjust="spacingAndGlyphs">−</text>
<text x="1597.42" y="932.40" font-size="51.00" textLength="55.07" lengthAdjust="spacingAndGlyphs">25</text>
<text x="1711.90" y="932.40" font-size="51.00" textLength="28.06" lengthAdjust="spacingAndGlyphs">−</text>
<text x="1745.67" y="932.40" font-size="51.00" textLength="54.27" lengthAdjust="spacingAndGlyphs">30</text>
<text x="1181.20" y="991.80" font-size="46.00" textLength="25.58" lengthAdjust="spacingAndGlyphs">1</text>
<text x="1208.19" y="1008.80" font-size="60.00" textLength="602.48" lengthAdjust="spacingAndGlyphs">H Chemical Shift (ppm)</text>
<text transform="translate(1027.90 715.90) rotate(-90)" x="-4.81" y="0" font-size="60.00" fill="#231f20" textLength="372.77" lengthAdjust="spacingAndGlyphs">H Signal (a.u.)</text>
<text transform="translate(1011.00 745.35) rotate(-90)" x="-3.45" y="0" font-size="46.00" fill="#231f20" textLength="25.58" lengthAdjust="spacingAndGlyphs">1</text>
<path d="M1183.00 608.68 L1183.50 609.06 L1184.00 608.66 L1184.50 607.36 L1185.00 609.12 L1185.50 608.76 L1186.00 607.97 L1186.50 608.86 L1187.00 608.69 L1187.50 608.64 L1188.00 608.42 L1188.50 608.84 L1189.00 607.81 L1189.50 608.27 L1190.00 608.01 L1190.50 608.88 L1191.00 608.43 L1191.50 608.17 L1192.00 607.77 L1192.50 608.19 L1193.00 608.41 L1193.50 608.18 L1194.00 609.44 L1194.50 609.21 L1195.00 606.23 L1195.50 606.89 L1196.00 608.26 L1196.50 608.06 L1197.00 608.57 L1197.50 608.57 L1198.00 610.09 L1198.50 607.51 L1199.00 608.10 L1199.50 610.03 L1200.00 608.92 L1200.50 608.93 L1201.00 607.99 L1201.50 607.08 L1202.00 608.53 L1202.50 608.49 L1203.00 607.42 L1203.50 607.85 L1204.00 608.34 L1204.50 607.64 L1205.00 608.32 L1205.50 608.48 L1206.00 608.43 L1206.50 607.99 L1207.00 608.87 L1207.50 609.11 L1208.00 608.66 L1208.50 607.75 L1209.00 608.99 L1209.50 608.00 L1210.00 609.10 L1210.50 607.54 L1211.00 609.13 L1211.50 608.38 L1212.00 607.40 L1212.50 608.15 L1213.00 608.44 L1213.50 608.62 L1214.00 607.61 L1214.50 607.51 L1215.00 608.56 L1215.50 608.03 L1216.00 608.59 L1216.50 609.01 L1217.00 607.08 L1217.50 608.60 L1218.00 609.38 L1218.50 608.16 L1219.00 607.75 L1219.50 609.00 L1220.00 608.60 L1220.50 609.12 L1221.00 608.12 L1221.50 607.21 L1222.00 608.31 L1222.50 608.04 L1223.00 609.02 L1223.50 608.55 L1224.00 607.10 L1224.50 607.44 L1225.00 609.11 L1225.50 608.94 L1226.00 607.89 L1226.50 608.40 L1227.00 608.76 L1227.50 608.77 L1228.00 609.10 L1228.50 608.61 L1229.00 608.32 L1229.50 608.19 L1230.00 609.24 L1230.50 606.60 L1231.00 608.29 L1231.50 608.43 L1232.00 607.26 L1232.50 608.67 L1233.00 607.88 L1233.50 609.09 L1234.00 608.30 L1234.50 608.94 L1235.00 609.38 L1235.50 608.71 L1236.00 607.70 L1236.50 607.19 L1237.00 609.80 L1237.50 608.31 L1238.00 607.85 L1238.50 608.52 L1239.00 608.25 L1239.50 609.08 L1240.00 608.43 L1240.50 608.41 L1241.00 607.83 L1241.50 608.78 L1242.00 607.57 L1242.50 608.93 L1243.00 609.62 L1243.50 607.18 L1244.00 606.43 L1244.50 608.89 L1245.00 610.44 L1245.50 607.60 L1246.00 607.40 L1246.50 608.87 L1247.00 607.73 L1247.50 608.00 L1248.00 608.12 L1248.50 608.83 L1249.00 608.08 L1249.50 608.62 L1250.00 608.26 L1250.50 607.72 L1251.00 608.14 L1251.50 607.64 L1252.00 608.41 L1252.50 607.50 L1253.00 607.53 L1253.50 609.57 L1254.00 608.36 L1254.50 608.36 L1255.00 608.81 L1255.50 608.06 L1256.00 608.22 L1256.50 608.74 L1257.00 608.63 L1257.50 607.47 L1258.00 609.07 L1258.50 607.93 L1259.00 607.56 L1259.50 607.68 L1260.00 608.09 L1260.50 609.70 L1261.00 607.46 L1261.50 608.53 L1262.00 606.69 L1262.50 608.40 L1263.00 609.12 L1263.50 608.21 L1264.00 607.90 L1264.50 608.59 L1265.00 608.96 L1265.50 608.93 L1266.00 609.98 L1266.50 608.57 L1267.00 607.93 L1267.50 608.30 L1268.00 608.34 L1268.50 608.49 L1269.00 608.38 L1269.50 608.54 L1270.00 607.06 L1270.50 609.06 L1271.00 607.94 L1271.50 607.46 L1272.00 608.91 L1272.50 609.45 L1273.00 608.79 L1273.50 608.53 L1274.00 607.65 L1274.50 610.70 L1275.00 609.10 L1275.50 607.49 L1276.00 607.78 L1276.50 608.47 L1277.00 607.16 L1277.50 608.53 L1278.00 608.03 L1278.50 609.38 L1279.00 609.17 L1279.50 606.23 L1280.00 608.43 L1280.50 607.11 L1281.00 609.29 L1281.50 608.53 L1282.00 608.84 L1282.50 607.55 L1283.00 609.86 L1283.50 610.02 L1284.00 607.55 L1284.50 608.70 L1285.00 607.86 L1285.50 608.38 L1286.00 607.39 L1286.50 609.89 L1287.00 607.62 L1287.50 608.16 L1288.00 608.80 L1288.50 607.88 L1289.00 608.21 L1289.50 607.95 L1290.00 608.29 L1290.50 607.46 L1291.00 608.05 L1291.50 608.23 L1292.00 608.13 L1292.50 608.45 L1293.00 608.17 L1293.50 609.00 L1294.00 608.14 L1294.50 608.29 L1295.00 607.87 L1295.50 607.98 L1296.00 607.39 L1296.50 608.82 L1297.00 607.49 L1297.50 607.80 L1298.00 608.69 L1298.50 608.72 L1299.00 608.08 L1299.50 606.78 L1300.00 608.74 L1300.50 608.61 L1301.00 607.27 L1301.50 609.02 L1302.00 607.84 L1302.50 607.50 L1303.00 608.48 L1303.50 608.26 L1304.00 608.56 L1304.50 607.12 L1305.00 609.85 L1305.50 607.92 L1306.00 607.17 L1306.50 608.90 L1307.00 608.12 L1307.50 608.67 L1308.00 608.14 L1308.50 608.37 L1309.00 608.61 L1309.50 607.82 L1310.00 608.96 L1310.50 608.04 L1311.00 607.73 L1311.50 608.49 L1312.00 608.78 L1312.50 608.25 L1313.00 607.74 L1313.50 608.93 L1314.00 607.03 L1314.50 607.62 L1315.00 608.48 L1315.50 607.36 L1316.00 608.48 L1316.50 608.41 L1317.00 609.18 L1317.50 607.74 L1318.00 607.97 L1318.50 608.74 L1319.00 606.52 L1319.50 610.97 L1320.00 607.93 L1320.50 607.91 L1321.00 609.19 L1321.50 608.48 L1322.00 607.09 L1322.50 609.03 L1323.00 609.21 L1323.50 608.18 L1324.00 608.32 L1324.50 608.94 L1325.00 607.83 L1325.50 608.92 L1326.00 608.74 L1326.50 608.05 L1327.00 607.48 L1327.50 608.42 L1328.00 607.91 L1328.50 609.42 L1329.00 608.75 L1329.50 609.27 L1330.00 608.76 L1330.50 608.87 L1331.00 608.05 L1331.50 609.22 L1332.00 610.12 L1332.50 608.46 L1333.00 608.25 L1333.50 608.61 L1334.00 608.36 L1334.50 608.20 L1335.00 608.88 L1335.50 608.55 L1336.00 609.95 L1336.50 609.00 L1337.00 609.80 L1337.50 611.12 L1338.00 611.17 L1338.50 613.77 L1339.00 613.44 L1339.50 614.68 L1340.00 616.41 L1340.50 617.93 L1341.00 618.11 L1341.50 620.24 L1342.00 619.75 L1342.50 622.73 L1343.00 621.74 L1343.50 620.85 L1344.00 619.44 L1344.50 618.07 L1345.00 615.96 L1345.50 612.80 L1346.00 610.28 L1346.50 608.29 L1347.00 605.66 L1347.50 604.84 L1348.00 603.54 L1348.50 601.88 L1349.00 602.21 L1349.50 600.93 L1350.00 602.82 L1350.50 602.71 L1351.00 603.65 L1351.50 605.15 L1352.00 602.72 L1352.50 605.47 L1353.00 605.12 L1353.50 607.22 L1354.00 606.44 L1354.50 607.80 L1355.00 609.02 L1355.50 609.94 L1356.00 610.02 L1356.50 609.73 L1357.00 610.20 L1357.50 611.49 L1358.00 610.77 L1358.50 609.27 L1359.00 611.00 L1359.50 610.26 L1360.00 610.13 L1360.50 608.59 L1361.00 608.88 L1361.50 606.69 L1362.00 607.27 L1362.50 605.69 L1363.00 605.88 L1363.50 605.43 L1364.00 603.34 L1364.50 603.25 L1365.00 602.74 L1365.50 603.16 L1366.00 602.37 L1366.50 600.47 L1367.00 601.45 L1367.50 601.31 L1368.00 602.05 L1368.50 598.65 L1369.00 599.21 L1369.50 600.37 L1370.00 597.90 L1370.50 597.72 L1371.00 598.81 L1371.50 598.96 L1372.00 597.39 L1372.50 598.17 L1373.00 597.68 L1373.50 598.69 L1374.00 597.41 L1374.50 598.19 L1375.00 596.73 L1375.50 597.42 L1376.00 597.66 L1376.50 598.88 L1377.00 598.70 L1377.50 597.95 L1378.00 599.44 L1378.50 599.89 L1379.00 599.58 L1379.50 599.87 L1380.00 600.34 L1380.50 599.56 L1381.00 601.49 L1381.50 601.93 L1382.00 601.44 L1382.50 603.10 L1383.00 601.75 L1383.50 602.71 L1384.00 603.04 L1384.50 605.23 L1385.00 602.52 L1385.50 604.38 L1386.00 604.82 L1386.50 604.49 L1387.00 605.26 L1387.50 603.63 L1388.00 602.73 L1388.50 605.28 L1389.00 603.82 L1389.50 604.62 L1390.00 604.04 L1390.50 605.93 L1391.00 605.87 L1391.50 604.70 L1392.00 606.08 L1392.50 605.54 L1393.00 605.42 L1393.50 605.65 L1394.00 605.52 L1394.50 606.25 L1395.00 606.07 L1395.50 605.61 L1396.00 606.75 L1396.50 605.52 L1397.00 606.29 L1397.50 606.45 L1398.00 607.34 L1398.50 605.79 L1399.00 607.63 L1399.50 606.41 L1400.00 606.14 L1400.50 605.79 L1401.00 606.83 L1401.50 606.42 L1402.00 605.53 L1402.50 605.54 L1403.00 606.02 L1403.50 605.95 L1404.00 607.39 L1404.50 607.64 L1405.00 607.26 L1405.50 606.88 L1406.00 606.27 L1406.50 606.68 L1407.00 607.37 L1407.50 608.39 L1408.00 607.44 L1408.50 606.51 L1409.00 606.78 L1409.50 606.39 L1410.00 606.17 L1410.50 606.67 L1411.00 607.00 L1411.50 608.33 L1412.00 606.92 L1412.50 607.98 L1413.00 608.33 L1413.50 607.00 L1414.00 608.24 L1414.50 607.54 L1415.00 606.66 L1415.50 607.22 L1416.00 607.04 L1416.50 606.86 L1417.00 606.90 L1417.50 607.19 L1418.00 607.44 L1418.50 606.40 L1419.00 607.12 L1419.50 605.92 L1420.00 607.36 L1420.50 607.67 L1421.00 607.32 L1421.50 607.43 L1422.00 607.68 L1422.50 606.69 L1423.00 607.05 L1423.50 607.66 L1424.00 608.07 L1424.50 607.60 L1425.00 609.34 L1425.50 607.23 L1426.00 608.12 L1426.50 608.34 L1427.00 607.24 L1427.50 606.70 L1428.00 606.42 L1428.50 607.51 L1429.00 608.28 L1429.50 607.62 L1430.00 607.55 L1430.50 607.12 L1431.00 607.88 L1431.50 605.74 L1432.00 607.64 L1432.50 607.49 L1433.00 606.38 L1433.50 609.23 L1434.00 606.39 L1434.50 606.65 L1435.00 606.56 L1435.50 608.42 L1436.00 606.83 L1436.50 608.08 L1437.00 608.03 L1437.50 607.78 L1438.00 606.53 L1438.50 607.10 L1439.00 608.93 L1439.50 606.57 L1440.00 606.95 L1440.50 607.49 L1441.00 608.28 L1441.50 607.84 L1442.00 608.25 L1442.50 606.81 L1443.00 608.43 L1443.50 608.13 L1444.00 606.41 L1444.50 608.93 L1445.00 609.54 L1445.50 607.10 L1446.00 607.77 L1446.50 608.85 L1447.00 606.56 L1447.50 606.16 L1448.00 606.72 L1448.50 607.32 L1449.00 607.32 L1449.50 608.28 L1450.00 608.01 L1450.50 606.81 L1451.00 608.27 L1451.50 609.33 L1452.00 608.80 L1452.50 608.64 L1453.00 607.87 L1453.50 608.65 L1454.00 607.10 L1454.50 608.48 L1455.00 607.82 L1455.50 608.80 L1456.00 608.28 L1456.50 607.04 L1457.00 608.03 L1457.50 608.91 L1458.00 607.04 L1458.50 607.50 L1459.00 607.34 L1459.50 606.77 L1460.00 608.74 L1460.50 609.03 L1461.00 608.63 L1461.50 608.19 L1462.00 607.96 L1462.50 608.20 L1463.00 607.43 L1463.50 608.74 L1464.00 608.87 L1464.50 608.79 L1465.00 607.62 L1465.50 608.12 L1466.00 607.93 L1466.50 609.50 L1467.00 608.22 L1467.50 606.58 L1468.00 608.41 L1468.50 609.60 L1469.00 608.65 L1469.50 608.81 L1470.00 608.15 L1470.50 606.55 L1471.00 606.68 L1471.50 607.14 L1472.00 608.04 L1472.50 608.40 L1473.00 608.71 L1473.50 607.89 L1474.00 608.94 L1474.50 607.95 L1475.00 607.62 L1475.50 608.87 L1476.00 607.46 L1476.50 606.02 L1477.00 607.36 L1477.50 608.29 L1478.00 605.76 L1478.50 607.94 L1479.00 607.97 L1479.50 607.10 L1480.00 607.06 L1480.50 607.88 L1481.00 607.82 L1481.50 609.27 L1482.00 608.57 L1482.50 607.01 L1483.00 607.60 L1483.50 608.85 L1484.00 609.81 L1484.50 608.61 L1485.00 608.56 L1485.50 609.80 L1486.00 608.30 L1486.50 608.08 L1487.00 607.20 L1487.50 607.93 L1488.00 610.09 L1488.50 607.21 L1489.00 608.37 L1489.50 607.24 L1490.00 608.47 L1490.50 609.09 L1491.00 608.19 L1491.50 608.97 L1492.00 608.97 L1492.50 608.76 L1493.00 609.78 L1493.50 609.04 L1494.00 608.18 L1494.50 607.88 L1495.00 607.76 L1495.50 608.82 L1496.00 608.19 L1496.50 610.64 L1497.00 609.93 L1497.50 608.29 L1498.00 608.21 L1498.50 609.83 L1499.00 606.98 L1499.50 608.13 L1500.00 609.26 L1500.50 607.78 L1501.00 608.13 L1501.50 608.24 L1502.00 609.05 L1502.50 608.64 L1503.00 608.86 L1503.50 609.02 L1504.00 608.57 L1504.50 609.44 L1505.00 607.97 L1505.50 607.41 L1506.00 607.14 L1506.50 607.27 L1507.00 608.13 L1507.50 609.40 L1508.00 608.72 L1508.50 608.10 L1509.00 607.73 L1509.50 608.17 L1510.00 608.27 L1510.50 608.15 L1511.00 607.46 L1511.50 608.23 L1512.00 609.43 L1512.50 606.88 L1513.00 608.43 L1513.50 606.93 L1514.00 608.78 L1514.50 608.04 L1515.00 606.98 L1515.50 608.74 L1516.00 610.12 L1516.50 608.76 L1517.00 609.61 L1517.50 608.63 L1518.00 606.97 L1518.50 609.10 L1519.00 608.39 L1519.50 607.56 L1520.00 609.37 L1520.50 608.99 L1521.00 608.35 L1521.50 609.48 L1522.00 608.10 L1522.50 609.38 L1523.00 608.28 L1523.50 609.70 L1524.00 608.71 L1524.50 611.16 L1525.00 610.60 L1525.50 612.00 L1526.00 610.68 L1526.50 611.45 L1527.00 613.00 L1527.50 610.61 L1528.00 612.41 L1528.50 614.51 L1529.00 614.43 L1529.50 615.15 L1530.00 614.35 L1530.50 615.20 L1531.00 614.22 L1531.50 613.65 L1532.00 613.24 L1532.50 613.91 L1533.00 613.59 L1533.50 613.14 L1534.00 610.35 L1534.50 611.09 L1535.00 611.73 L1535.50 611.81 L1536.00 610.53 L1536.50 609.70 L1537.00 607.96 L1537.50 610.84 L1538.00 607.77 L1538.50 609.47 L1539.00 608.87 L1539.50 607.40 L1540.00 606.34 L1540.50 606.55 L1541.00 605.15 L1541.50 605.90 L1542.00 605.30 L1542.50 605.34 L1543.00 605.29 L1543.50 605.54 L1544.00 603.48 L1544.50 604.27 L1545.00 602.48 L1545.50 602.10 L1546.00 602.05 L1546.50 601.52 L1547.00 602.90 L1547.50 602.70 L1548.00 602.87 L1548.50 601.78 L1549.00 602.02 L1549.50 601.37 L1550.00 600.97 L1550.50 602.33 L1551.00 602.29 L1551.50 601.31 L1552.00 602.80 L1552.50 601.09 L1553.00 602.50 L1553.50 602.32 L1554.00 602.57 L1554.50 602.31 L1555.00 604.13 L1555.50 604.00 L1556.00 604.68 L1556.50 604.01 L1557.00 603.04 L1557.50 603.93 L1558.00 603.43 L1558.50 604.87 L1559.00 605.59 L1559.50 604.98 L1560.00 604.31 L1560.50 604.55 L1561.00 605.07 L1561.50 603.81 L1562.00 605.14 L1562.50 605.24 L1563.00 604.70 L1563.50 604.85 L1564.00 605.37 L1564.50 604.63 L1565.00 604.68 L1565.50 606.01 L1566.00 605.61 L1566.50 606.82 L1567.00 604.73 L1567.50 604.14 L1568.00 606.35 L1568.50 606.41 L1569.00 605.09 L1569.50 604.54 L1570.00 605.72 L1570.50 604.39 L1571.00 605.55 L1571.50 604.11 L1572.00 605.70 L1572.50 604.22 L1573.00 605.76 L1573.50 607.19 L1574.00 605.79 L1574.50 606.65 L1575.00 605.55 L1575.50 605.37 L1576.00 604.91 L1576.50 606.96 L1577.00 606.11 L1577.50 607.47 L1578.00 605.25 L1578.50 606.03 L1579.00 606.29 L1579.50 607.38 L1580.00 607.72 L1580.50 605.76 L1581.00 605.39 L1581.50 604.92 L1582.00 607.39 L1582.50 606.26 L1583.00 605.82 L1583.50 606.31 L1584.00 604.31 L1584.50 604.99 L1585.00 607.13 L1585.50 606.70 L1586.00 606.51 L1586.50 605.60 L1587.00 606.88 L1587.50 607.83 L1588.00 605.44 L1588.50 606.43 L1589.00 606.08 L1589.50 606.72 L1590.00 606.45 L1590.50 606.32 L1591.00 605.74 L1591.50 606.44 L1592.00 605.97 L1592.50 606.34 L1593.00 606.42 L1593.50 607.00 L1594.00 606.01 L1594.50 606.23 L1595.00 607.35 L1595.50 606.33 L1596.00 606.30 L1596.50 607.21 L1597.00 606.74 L1597.50 606.61 L1598.00 606.72 L1598.50 605.57 L1599.00 606.94 L1599.50 607.65 L1600.00 607.07 L1600.50 605.37 L1601.00 606.86 L1601.50 605.93 L1602.00 606.49 L1602.50 606.80 L1603.00 605.76 L1603.50 607.81 L1604.00 606.71 L1604.50 607.56 L1605.00 607.84 L1605.50 609.01 L1606.00 609.66 L1606.50 608.41 L1607.00 610.59 L1607.50 609.86 L1608.00 612.21 L1608.50 614.10 L1609.00 615.14 L1609.50 616.19 L1610.00 615.45 L1610.50 616.39 L1611.00 616.35 L1611.50 617.05 L1612.00 616.65 L1612.50 614.08 L1613.00 616.11 L1613.50 611.61 L1614.00 609.72 L1614.50 608.85 L1615.00 607.36 L1615.50 605.68 L1616.00 603.40 L1616.50 604.03 L1617.00 602.16 L1617.50 603.02 L1618.00 602.90 L1618.50 600.82 L1619.00 601.13 L1619.50 601.22 L1620.00 602.35 L1620.50 602.34 L1621.00 602.68 L1621.50 602.01 L1622.00 603.20 L1622.50 604.20 L1623.00 602.23 L1623.50 603.37 L1624.00 603.96 L1624.50 603.89 L1625.00 604.07 L1625.50 605.87 L1626.00 605.70 L1626.50 605.56 L1627.00 604.46 L1627.50 607.04 L1628.00 605.69 L1628.50 605.08 L1629.00 605.38 L1629.50 605.34 L1630.00 607.49 L1630.50 605.99 L1631.00 605.91 L1631.50 604.17 L1632.00 606.52 L1632.50 605.11 L1633.00 605.09 L1633.50 606.51 L1634.00 605.35 L1634.50 606.74 L1635.00 606.99 L1635.50 604.69 L1636.00 606.03 L1636.50 604.91 L1637.00 606.14 L1637.50 606.94 L1638.00 605.13 L1638.50 607.68 L1639.00 606.01 L1639.50 605.33 L1640.00 606.19 L1640.50 606.94 L1641.00 605.22 L1641.50 606.33 L1642.00 605.24 L1642.50 607.32 L1643.00 606.49 L1643.50 606.03 L1644.00 607.21 L1644.50 605.36 L1645.00 606.09 L1645.50 607.89 L1646.00 606.32 L1646.50 607.51 L1647.00 606.59 L1647.50 605.88 L1648.00 606.25 L1648.50 606.51 L1649.00 606.13 L1649.50 605.81 L1650.00 605.85 L1650.50 605.29 L1651.00 606.57 L1651.50 606.80 L1652.00 607.09 L1652.50 605.05 L1653.00 607.15 L1653.50 606.50 L1654.00 605.37 L1654.50 606.60 L1655.00 607.18 L1655.50 606.95 L1656.00 607.12 L1656.50 607.31 L1657.00 607.27 L1657.50 606.54 L1658.00 604.91 L1658.50 605.98 L1659.00 606.88 L1659.50 606.23 L1660.00 607.16 L1660.50 607.26 L1661.00 606.67 L1661.50 608.15 L1662.00 605.88 L1662.50 607.42 L1663.00 606.31 L1663.50 606.08 L1664.00 607.19 L1664.50 606.25 L1665.00 607.44 L1665.50 605.84 L1666.00 606.82 L1666.50 606.14 L1667.00 606.65 L1667.50 606.56 L1668.00 605.98 L1668.50 607.43 L1669.00 605.94 L1669.50 606.18 L1670.00 607.70 L1670.25 607.78 L1670.50 607.55 L1670.75 607.31 L1671.00 608.87 L1671.25 606.10 L1671.50 606.49 L1671.75 606.31 L1672.00 607.84 L1672.25 607.37 L1672.50 608.04 L1672.75 607.95 L1673.00 607.01 L1673.25 606.55 L1673.50 606.43 L1673.75 609.02 L1674.00 608.04 L1674.25 607.76 L1674.50 607.04 L1674.75 607.17 L1675.00 607.08 L1675.25 607.12 L1675.50 605.48 L1675.75 607.39 L1676.00 607.20 L1676.25 607.83 L1676.50 607.88 L1676.75 608.52 L1677.00 607.98 L1677.25 608.79 L1677.50 606.29 L1677.75 607.65 L1678.00 610.12 L1678.25 607.99 L1678.50 608.98 L1678.75 610.01 L1679.00 609.00 L1679.25 610.54 L1679.50 609.09 L1679.75 608.98 L1680.00 609.73 L1680.25 609.76 L1680.50 611.40 L1680.75 611.51 L1681.00 612.41 L1681.25 611.73 L1681.50 615.04 L1681.75 613.40 L1682.00 613.95 L1682.25 614.88 L1682.50 614.89 L1682.75 615.17 L1683.00 616.37 L1683.25 617.70 L1683.50 618.19 L1683.75 619.13 L1684.00 618.68 L1684.25 619.30 L1684.50 622.34 L1684.75 621.40 L1685.00 622.86 L1685.25 623.98 L1685.50 625.48 L1685.75 624.25 L1686.00 625.97 L1686.25 627.06 L1686.50 628.25 L1686.75 627.77 L1687.00 631.03 L1687.25 630.39 L1687.50 634.72 L1687.75 636.86 L1688.00 639.01 L1688.25 639.83 L1688.50 643.96 L1688.75 645.03 L1689.00 647.39 L1689.25 650.36 L1689.50 653.33 L1689.75 657.10 L1690.00 660.66 L1690.25 661.44 L1690.50 665.86 L1690.75 670.24 L1691.00 672.96 L1691.25 676.73 L1691.50 679.10 L1691.75 685.41 L1692.00 688.03 L1692.25 694.31 L1692.50 700.28 L1692.75 705.81 L1693.00 709.86 L1693.25 715.24 L1693.50 719.02 L1693.75 723.90 L1694.00 729.74 L1694.25 733.50 L1694.50 738.60 L1694.75 743.02 L1695.00 749.72 L1695.25 755.31 L1695.50 758.85 L1695.75 763.01 L1696.00 767.61 L1696.25 768.15 L1696.50 767.81 L1696.75 764.34 L1697.00 759.32 L1697.25 752.01 L1697.50 744.03 L1697.75 731.97 L1698.00 722.73 L1698.25 709.16 L1698.50 698.51 L1698.75 687.59 L1699.00 672.94 L1699.25 657.21 L1699.50 641.43 L1699.75 624.87 L1700.00 605.85 L1700.25 589.86 L1700.50 573.35 L1700.75 557.39 L1701.00 542.46 L1701.25 525.08 L1701.50 508.72 L1701.75 492.64 L1702.00 477.20 L1702.25 461.16 L1702.50 448.29 L1702.75 433.40 L1703.00 423.83 L1703.25 411.39 L1703.50 400.92 L1703.75 390.50 L1704.00 381.67 L1704.25 371.71 L1704.50 363.25 L1704.75 359.31 L1705.00 355.38 L1705.25 355.01 L1705.50 357.96 L1705.75 361.12 L1706.00 366.46 L1706.25 370.82 L1706.50 377.76 L1706.75 384.50 L1707.00 390.81 L1707.25 396.93 L1707.50 402.24 L1707.75 409.22 L1708.00 414.67 L1708.25 421.30 L1708.50 427.17 L1708.75 434.13 L1709.00 440.00 L1709.25 447.57 L1709.50 454.68 L1709.75 460.51 L1710.00 467.22 L1710.25 472.53 L1710.50 478.69 L1710.75 482.50 L1711.00 486.31 L1711.25 492.83 L1711.50 497.08 L1711.75 500.98 L1712.00 506.63 L1712.25 510.43 L1712.50 514.42 L1712.75 517.33 L1713.00 520.96 L1713.25 523.99 L1713.50 528.13 L1713.75 529.00 L1714.00 532.30 L1714.25 535.29 L1714.50 536.22 L1714.75 538.83 L1715.00 544.28 L1715.25 543.48 L1715.50 547.60 L1715.75 548.62 L1716.00 550.76 L1716.25 551.75 L1716.50 554.48 L1716.75 557.59 L1717.00 557.51 L1717.25 560.65 L1717.50 561.87 L1717.75 564.56 L1718.00 563.81 L1718.25 566.42 L1718.50 567.31 L1718.75 567.53 L1719.00 567.56 L1719.25 571.20 L1719.50 569.98 L1719.75 571.75 L1720.00 573.87 L1720.25 575.06 L1720.50 574.47 L1720.75 576.08 L1721.00 576.83 L1721.25 578.89 L1721.50 580.84 L1721.75 578.24 L1722.00 581.29 L1722.25 579.09 L1722.50 582.20 L1722.75 582.08 L1723.00 585.33 L1723.25 584.62 L1723.50 584.63 L1723.75 585.53 L1724.00 586.16 L1724.25 587.45 L1724.50 587.83 L1724.75 589.13 L1725.00 590.47 L1725.25 590.41 L1725.50 589.47 L1725.75 589.74 L1726.00 591.01 L1726.25 593.02 L1726.50 592.45 L1726.75 592.72 L1727.00 593.89 L1727.25 593.17 L1727.50 593.89 L1727.75 595.70 L1728.00 595.52 L1728.25 595.85 L1728.50 596.89 L1728.75 596.58 L1729.00 596.89 L1729.25 597.44 L1729.50 598.66 L1729.75 598.57 L1730.00 597.91 L1730.25 598.95 L1730.50 600.04 L1730.75 601.33 L1731.00 599.23 L1731.25 600.72 L1731.50 600.55 L1731.75 601.73 L1732.00 601.74 L1732.25 602.87 L1732.50 602.43 L1732.75 601.90 L1733.00 602.24 L1733.25 603.33 L1733.50 603.68 L1733.75 605.65 L1734.00 605.45 L1734.25 603.56 L1734.50 605.20 L1734.75 604.28 L1735.00 604.48 L1735.25 606.86 L1735.50 607.18 L1735.75 606.38 L1736.00 609.01 L1736.25 607.40 L1736.50 607.74 L1736.75 609.70 L1737.00 609.87 L1737.25 610.09 L1737.50 610.70 L1737.75 611.48 L1738.00 611.75 L1738.25 612.30 L1738.50 611.51 L1738.75 612.55 L1739.00 614.73 L1739.25 614.32 L1739.50 615.97 L1739.75 617.20 L1740.00 616.61 L1740.25 617.84 L1740.50 620.00 L1740.75 619.65 L1741.00 621.34 L1741.25 621.90 L1741.50 622.10 L1741.75 622.25 L1742.00 622.54 L1742.25 623.23 L1742.50 625.45 L1742.75 626.44 L1743.00 627.01 L1743.25 628.97 L1743.50 629.01 L1743.75 631.65 L1744.00 632.13 L1744.25 633.45 L1744.50 634.92 L1744.75 636.34 L1745.00 639.96 L1745.25 638.27 L1745.50 641.35 L1745.75 643.90 L1746.00 645.21 L1746.25 646.17 L1746.50 649.62 L1746.75 649.23 L1747.00 650.93 L1747.25 654.36 L1747.50 654.69 L1747.75 655.94 L1748.00 660.57 L1748.25 662.51 L1748.50 664.56 L1748.75 665.67 L1749.00 668.31 L1749.25 669.52 L1749.50 673.83 L1749.75 675.23 L1750.00 677.34 L1750.25 677.35 L1750.50 681.73 L1750.75 684.49 L1751.00 686.50 L1751.25 688.44 L1751.50 690.13 L1751.75 692.24 L1752.00 695.45 L1752.25 697.80 L1752.50 700.30 L1752.75 702.57 L1753.00 706.97 L1753.25 707.61 L1753.50 711.56 L1753.75 714.28 L1754.00 718.87 L1754.25 722.64 L1754.50 726.08 L1754.75 729.45 L1755.00 731.66 L1755.25 738.55 L1755.50 741.60 L1755.75 745.59 L1756.00 751.25 L1756.25 758.94 L1756.50 769.28 L1756.75 779.92 L1757.00 790.37 L1757.25 799.11 L1757.50 810.42 L1757.75 818.15 L1758.00 822.79 L1758.25 823.43 L1758.50 822.32 L1758.75 819.12 L1759.00 812.49 L1759.25 807.11 L1759.50 796.24 L1759.75 787.73 L1760.00 778.31 L1760.25 767.00 L1760.50 758.00 L1760.75 747.70 L1761.00 732.24 L1761.25 713.45 L1761.50 695.40 L1761.75 674.34 L1762.00 654.29 L1762.25 636.79 L1762.50 620.69 L1762.75 606.95 L1763.00 590.70 L1763.25 578.56 L1763.50 563.87 L1763.75 552.35 L1764.00 539.12 L1764.25 530.29 L1764.50 522.86 L1764.75 516.72 L1765.00 508.36 L1765.25 504.44 L1765.50 498.02 L1765.75 492.81 L1766.00 491.17 L1766.25 488.92 L1766.50 490.06 L1766.75 492.24 L1767.00 493.00 L1767.25 494.57 L1767.50 497.67 L1767.75 501.74 L1768.00 504.84 L1768.25 507.18 L1768.50 510.27 L1768.75 514.23 L1769.00 518.70 L1769.25 518.02 L1769.50 524.14 L1769.75 526.89 L1770.00 531.20 L1770.25 534.76 L1770.50 537.50 L1770.75 539.90 L1771.00 542.65 L1771.25 545.06 L1771.50 550.04 L1771.75 551.03 L1772.00 552.73 L1772.25 554.83 L1772.50 555.79 L1772.75 558.84 L1773.00 561.32 L1773.25 562.78 L1773.50 562.15 L1773.75 565.97 L1774.00 565.68 L1774.25 566.12 L1774.50 567.97 L1774.75 569.43 L1775.00 571.40 L1775.25 571.74 L1775.50 572.48 L1775.75 574.55 L1776.00 577.34 L1776.25 576.25 L1776.50 578.19 L1776.75 578.86 L1777.00 581.89 L1777.25 579.20 L1777.50 582.52 L1777.75 581.53 L1778.00 582.96 L1778.25 584.22 L1778.50 587.68 L1778.75 585.33 L1779.00 585.21 L1779.25 588.51 L1779.50 587.52 L1779.75 588.69 L1780.00 589.52 L1780.25 590.23 L1780.50 590.60 L1780.75 591.49 L1781.00 592.09 L1781.25 592.93 L1781.50 592.32 L1781.75 592.47 L1782.00 592.62 L1782.25 594.33 L1782.50 594.19 L1782.75 595.03 L1783.00 595.38 L1783.25 596.64 L1783.50 595.79 L1783.75 596.56 L1784.00 595.31 L1784.25 595.72 L1784.50 596.63 L1784.75 596.20 L1785.00 598.01 L1785.25 596.67 L1785.50 598.06 L1785.75 596.30 L1786.00 597.64 L1786.25 598.50 L1786.50 598.80 L1786.75 597.81 L1787.00 599.56 L1787.25 600.47 L1787.50 600.43 L1787.75 599.59 L1788.00 599.86 L1788.25 599.58 L1788.50 601.23 L1788.75 602.06 L1789.00 600.68 L1789.25 599.92 L1789.50 601.62 L1789.75 602.20 L1790.00 599.62 L1790.25 602.08 L1790.50 603.86 L1790.75 602.95 L1791.00 602.90 L1791.25 602.94 L1791.50 603.62 L1791.75 602.18 L1792.00 602.40 L1792.25 603.56 L1792.50 602.83 L1792.75 603.73 L1793.00 602.14 L1793.25 604.41 L1793.50 604.62 L1793.75 604.11 L1794.00 604.34 L1794.25 605.63 L1794.50 603.59 L1794.75 603.85 L1795.00 603.83 L1795.25 604.48 L1795.50 604.12 L1795.75 605.07 L1796.00 604.62 L1796.25 604.08 L1796.50 604.10 L1796.75 606.40 L1797.00 605.47 L1797.25 605.43 L1797.50 605.71 L1797.75 605.70 L1798.00 606.45 L1798.25 606.36 L1798.50 605.50 L1798.75 605.38 L1799.00 605.23 L1799.25 605.16 L1799.50 607.34 L1799.75 605.54 L1800.00 604.72 L1800.50 605.78 L1801.00 605.93 L1801.50 606.94 L1802.00 606.07 L1802.50 607.31 L1803.00 607.30 L1803.50 608.09 L1804.00 608.90 L1804.50 609.54 L1805.00 608.42 L1805.50 606.49 L1806.00 607.16 L1806.50 607.75 L1807.00 609.26 L1807.50 608.20 L1808.00 608.66 L1808.50 607.60 L1809.00 608.24 L1809.50 608.36 L1810.00 607.43 L1810.50 608.43 L1811.00 608.67 L1811.50 607.70 L1812.00 608.65 L1812.50 609.16 L1813.00 607.91 L1813.50 607.86 L1814.00 607.62 L1814.50 607.38 L1815.00 608.01 L1815.50 607.56 L1816.00 607.65 L1816.50 607.29 L1817.00 606.69 L1817.50 607.18 L1818.00 608.20 L1818.50 606.99 L1819.00 607.43 L1819.50 609.27 L1820.00 608.86 L1820.50 607.42 L1821.00 608.46 L1821.50 607.46 L1822.00 609.29 L1822.50 607.53 L1823.00 608.07 L1823.50 609.12 L1824.00 607.36 L1824.50 609.07 L1825.00 607.38 L1825.50 608.23 L1826.00 607.81 L1826.50 607.98 L1827.00 608.19 L1827.50 608.01 L1828.00 607.26 L1828.50 608.77 L1829.00 608.66 L1829.50 609.12 L1830.00 609.20 L1830.50 607.03 L1831.00 609.13 L1831.50 609.15 L1832.00 607.69 L1832.50 608.95 L1833.00 609.30 L1833.50 607.70 L1834.00 607.04 L1834.50 607.86 L1835.00 610.38 L1835.50 608.34 L1836.00 607.19 L1836.50 607.96 L1837.00 607.37 L1837.50 607.86 L1838.00 608.26 L1838.50 606.14 L1839.00 608.48 L1839.50 609.33 L1840.00 608.04 L1840.50 607.90 L1841.00 609.08 L1841.50 607.20 L1842.00 607.22 L1842.50 607.11 L1843.00 608.10 L1843.50 608.54 L1844.00 608.16 L1844.50 608.68 L1845.00 608.91 L1845.50 608.64 L1846.00 607.60 L1846.50 608.04 L1847.00 609.25 L1847.50 607.42 L1848.00 608.06 L1848.50 607.93 L1849.00 608.13 L1849.50 607.41 L1850.00 607.20 L1850.50 610.32 L1851.00 609.04 L1851.50 607.72 L1852.00 608.24 L1852.50 608.83 L1853.00 608.02 L1853.50 608.79 L1854.00 607.81 L1854.50 608.02 L1855.00 608.24 L1855.50 607.94 L1856.00 606.35 L1856.50 608.33 L1857.00 608.53 L1857.50 608.70 L1858.00 607.53 L1858.50 608.60 L1859.00 608.50 L1859.50 606.92 L1860.00 606.57 L1860.50 608.72 L1861.00 607.57 L1861.50 609.14 L1862.00 610.05 L1862.50 607.88 L1863.00 607.79 L1863.50 608.34 L1864.00 608.89 L1864.50 607.44 L1865.00 609.35 L1865.50 609.15 L1866.00 608.89 L1866.50 607.93 L1867.00 609.09 L1867.50 609.05 L1868.00 607.40 L1868.50 610.04 L1869.00 608.13 L1869.50 608.66 L1870.00 607.95 L1870.50 608.68 L1871.00 609.30 L1871.50 607.73 L1872.00 607.05 L1872.50 608.02 L1873.00 607.33 L1873.50 607.77 L1874.00 608.28 L1874.50 608.33 L1875.00 609.42 L1875.50 607.57 L1876.00 608.67 L1876.50 607.98 L1877.00 609.48 L1877.50 610.41 L1878.00 608.63 L1878.50 609.73 L1879.00 607.97 L1879.50 607.11 L1880.00 607.37 L1880.50 607.13 L1881.00 607.63 L1881.50 608.20 L1882.00 609.31 L1882.50 608.95 L1883.00 608.77 L1883.50 608.06 L1884.00 607.82 L1884.50 608.42 L1885.00 608.51 L1885.50 608.60 L1886.00 608.69 L1886.50 608.30 L1887.00 606.86 L1887.50 607.51 L1888.00 607.74 L1888.50 609.76 L1889.00 608.06 L1889.50 608.94 L1890.00 609.57 L1890.50 608.67 L1891.00 608.09 L1891.50 608.17 L1892.00 607.58 L1892.50 608.65" fill="none" stroke="#a32b19" stroke-width="5.2" stroke-linejoin="round"/>
<text x="1438.93" y="558.80" font-size="49.00" font-weight="bold" textLength="52.82" lengthAdjust="spacingAndGlyphs">3a</text>
<text x="1752.87" y="421.70" font-size="49.00" font-weight="bold" textLength="58.85" lengthAdjust="spacingAndGlyphs">3b</text>
<line x1="1384.40" y1="583.30" x2="1432.20" y2="553.30" stroke="#231f20" stroke-width="5.4" stroke-dasharray="13.02 8.68"/>
<line x1="1496.60" y1="556.60" x2="1539.90" y2="594.40" stroke="#231f20" stroke-width="5.4" stroke-dasharray="13.26 8.84"/>
<line x1="1711.70" y1="351.50" x2="1749.60" y2="394.10" stroke="#231f20" stroke-width="5.4" stroke-dasharray="13.16 8.77"/>
<line x1="1766.30" y1="432.70" x2="1766.30" y2="475.50" stroke="#231f20" stroke-width="5.2" stroke-dasharray="9.51 7.13"/>
<text x="21.08" y="1173.77" font-size="93.15" font-weight="bold" textLength="54.53" lengthAdjust="spacingAndGlyphs">c</text>
<text x="306.48" y="1129.00" font-size="69.60" font-weight="bold" fill="#231f20" textLength="483.39" lengthAdjust="spacingAndGlyphs">Hyperpolarized</text>
<text x="307.61" y="1208.90" font-size="69.00" font-weight="bold" fill="#231f20" textLength="82.06" lengthAdjust="spacingAndGlyphs">[1-</text>
<text x="388.60" y="1186.60" font-size="39.00" font-weight="bold" fill="#231f20" textLength="42.74" lengthAdjust="spacingAndGlyphs">13</text>
<text x="431.64" y="1208.90" font-size="69.00" font-weight="bold" fill="#231f20" textLength="374.36" lengthAdjust="spacingAndGlyphs">C]KIC + HCl</text>
<text x="829.45" y="1342.10" font-size="70.00" font-weight="bold" fill="#e3001b" textLength="226.34" lengthAdjust="spacingAndGlyphs">pH=4.0</text>
<line x1="177.00" y1="1217.70" x2="177.00" y2="1931.80" stroke="#000" stroke-width="4.5" />
<line x1="170.00" y1="1899.30" x2="177.00" y2="1899.30" stroke="#000" stroke-width="4" stroke-linecap="round"/>
<line x1="170.00" y1="1748.70" x2="177.00" y2="1748.70" stroke="#000" stroke-width="4" stroke-linecap="round"/>
<line x1="170.00" y1="1598.10" x2="177.00" y2="1598.10" stroke="#000" stroke-width="4" stroke-linecap="round"/>
<line x1="170.00" y1="1447.50" x2="177.00" y2="1447.50" stroke="#000" stroke-width="4" stroke-linecap="round"/>
<line x1="170.00" y1="1296.90" x2="177.00" y2="1296.90" stroke="#000" stroke-width="4" stroke-linecap="round"/>
<line x1="173.40" y1="1869.18" x2="177.00" y2="1869.18" stroke="#000" stroke-width="4" stroke-linecap="round"/>
<line x1="173.40" y1="1839.06" x2="177.00" y2="1839.06" stroke="#000" stroke-width="4" stroke-linecap="round"/>
<line x1="173.40" y1="1808.94" x2="177.00" y2="1808.94" stroke="#000" stroke-width="4" stroke-linecap="round"/>
<line x1="173.40" y1="1778.82" x2="177.00" y2="1778.82" stroke="#000" stroke-width="4" stroke-linecap="round"/>
<line x1="173.40" y1="1718.58" x2="177.00" y2="1718.58" stroke="#000" stroke-width="4" stroke-linecap="round"/>
<line x1="173.40" y1="1688.46" x2="177.00" y2="1688.46" stroke="#000" stroke-width="4" stroke-linecap="round"/>
<line x1="173.40" y1="1658.34" x2="177.00" y2="1658.34" stroke="#000" stroke-width="4" stroke-linecap="round"/>
<line x1="173.40" y1="1628.22" x2="177.00" y2="1628.22" stroke="#000" stroke-width="4" stroke-linecap="round"/>
<line x1="173.40" y1="1567.98" x2="177.00" y2="1567.98" stroke="#000" stroke-width="4" stroke-linecap="round"/>
<line x1="173.40" y1="1537.86" x2="177.00" y2="1537.86" stroke="#000" stroke-width="4" stroke-linecap="round"/>
<line x1="173.40" y1="1507.74" x2="177.00" y2="1507.74" stroke="#000" stroke-width="4" stroke-linecap="round"/>
<line x1="173.40" y1="1477.62" x2="177.00" y2="1477.62" stroke="#000" stroke-width="4" stroke-linecap="round"/>
<line x1="173.40" y1="1417.38" x2="177.00" y2="1417.38" stroke="#000" stroke-width="4" stroke-linecap="round"/>
<line x1="173.40" y1="1387.26" x2="177.00" y2="1387.26" stroke="#000" stroke-width="4" stroke-linecap="round"/>
<line x1="173.40" y1="1357.14" x2="177.00" y2="1357.14" stroke="#000" stroke-width="4" stroke-linecap="round"/>
<line x1="173.40" y1="1327.02" x2="177.00" y2="1327.02" stroke="#000" stroke-width="4" stroke-linecap="round"/>
<line x1="173.40" y1="1266.78" x2="177.00" y2="1266.78" stroke="#000" stroke-width="4" stroke-linecap="round"/>
<line x1="173.40" y1="1236.66" x2="177.00" y2="1236.66" stroke="#000" stroke-width="4" stroke-linecap="round"/>
<line x1="174.80" y1="1929.30" x2="934.50" y2="1929.30" stroke="#000" stroke-width="4.5" />
<line x1="326.10" y1="1929.30" x2="326.10" y2="1936.70" stroke="#000" stroke-width="4" stroke-linecap="round"/>
<line x1="477.10" y1="1929.30" x2="477.10" y2="1936.70" stroke="#000" stroke-width="4" stroke-linecap="round"/>
<line x1="628.10" y1="1929.30" x2="628.10" y2="1936.70" stroke="#000" stroke-width="4" stroke-linecap="round"/>
<line x1="779.10" y1="1929.30" x2="779.10" y2="1936.70" stroke="#000" stroke-width="4" stroke-linecap="round"/>
<line x1="930.10" y1="1929.30" x2="930.10" y2="1936.70" stroke="#000" stroke-width="4" stroke-linecap="round"/>
<line x1="205.30" y1="1929.30" x2="205.30" y2="1933.90" stroke="#000" stroke-width="4" stroke-linecap="round"/>
<line x1="235.50" y1="1929.30" x2="235.50" y2="1933.90" stroke="#000" stroke-width="4" stroke-linecap="round"/>
<line x1="265.70" y1="1929.30" x2="265.70" y2="1933.90" stroke="#000" stroke-width="4" stroke-linecap="round"/>
<line x1="295.90" y1="1929.30" x2="295.90" y2="1933.90" stroke="#000" stroke-width="4" stroke-linecap="round"/>
<line x1="356.30" y1="1929.30" x2="356.30" y2="1933.90" stroke="#000" stroke-width="4" stroke-linecap="round"/>
<line x1="386.50" y1="1929.30" x2="386.50" y2="1933.90" stroke="#000" stroke-width="4" stroke-linecap="round"/>
<line x1="416.70" y1="1929.30" x2="416.70" y2="1933.90" stroke="#000" stroke-width="4" stroke-linecap="round"/>
<line x1="446.90" y1="1929.30" x2="446.90" y2="1933.90" stroke="#000" stroke-width="4" stroke-linecap="round"/>
<line x1="507.30" y1="1929.30" x2="507.30" y2="1933.90" stroke="#000" stroke-width="4" stroke-linecap="round"/>
<line x1="537.50" y1="1929.30" x2="537.50" y2="1933.90" stroke="#000" stroke-width="4" stroke-linecap="round"/>
<line x1="567.70" y1="1929.30" x2="567.70" y2="1933.90" stroke="#000" stroke-width="4" stroke-linecap="round"/>
<line x1="597.90" y1="1929.30" x2="597.90" y2="1933.90" stroke="#000" stroke-width="4" stroke-linecap="round"/>
<line x1="658.30" y1="1929.30" x2="658.30" y2="1933.90" stroke="#000" stroke-width="4" stroke-linecap="round"/>
<line x1="688.50" y1="1929.30" x2="688.50" y2="1933.90" stroke="#000" stroke-width="4" stroke-linecap="round"/>
<line x1="718.70" y1="1929.30" x2="718.70" y2="1933.90" stroke="#000" stroke-width="4" stroke-linecap="round"/>
<line x1="748.90" y1="1929.30" x2="748.90" y2="1933.90" stroke="#000" stroke-width="4" stroke-linecap="round"/>
<line x1="809.30" y1="1929.30" x2="809.30" y2="1933.90" stroke="#000" stroke-width="4" stroke-linecap="round"/>
<line x1="839.50" y1="1929.30" x2="839.50" y2="1933.90" stroke="#000" stroke-width="4" stroke-linecap="round"/>
<line x1="869.70" y1="1929.30" x2="869.70" y2="1933.90" stroke="#000" stroke-width="4" stroke-linecap="round"/>
<line x1="899.90" y1="1929.30" x2="899.90" y2="1933.90" stroke="#000" stroke-width="4" stroke-linecap="round"/>
<text x="84.02" y="1316.10" font-size="51.00" textLength="70.90" lengthAdjust="spacingAndGlyphs">2.0</text>
<text x="86.29" y="1466.70" font-size="51.00" textLength="68.69" lengthAdjust="spacingAndGlyphs">1.5</text>
<text x="86.30" y="1617.30" font-size="51.00" textLength="68.56" lengthAdjust="spacingAndGlyphs">1.0</text>
<text x="84.15" y="1767.90" font-size="51.00" textLength="70.90" lengthAdjust="spacingAndGlyphs">0.5</text>
<text x="109.88" y="1918.50" font-size="51.00" textLength="28.36" lengthAdjust="spacingAndGlyphs">0</text>
<text x="287.84" y="1991.50" font-size="51.00" textLength="85.84" lengthAdjust="spacingAndGlyphs">190</text>
<text x="438.84" y="1991.50" font-size="51.00" textLength="85.84" lengthAdjust="spacingAndGlyphs">180</text>
<text x="589.84" y="1991.50" font-size="51.00" textLength="85.84" lengthAdjust="spacingAndGlyphs">170</text>
<text x="740.84" y="1991.50" font-size="51.00" textLength="85.84" lengthAdjust="spacingAndGlyphs">160</text>
<text x="891.84" y="1991.50" font-size="51.00" textLength="85.84" lengthAdjust="spacingAndGlyphs">150</text>
<text x="251.60" y="2050.40" font-size="46.00" textLength="47.52" lengthAdjust="spacingAndGlyphs">13</text>
<text x="299.08" y="2067.90" font-size="60.00" textLength="602.69" lengthAdjust="spacingAndGlyphs">C Chemical Shift (ppm)</text>
<text transform="translate(67.20 1765.00) rotate(-90)" x="-2.90" y="0" font-size="60.00" fill="#231f20" textLength="371.35" lengthAdjust="spacingAndGlyphs">C Signal (a.u.)</text>
<text transform="translate(50.00 1811.80) rotate(-90)" x="-3.08" y="0" font-size="46.00" fill="#231f20" textLength="45.61" lengthAdjust="spacingAndGlyphs">13</text>
<path d="M178.00 1899.69 L179.00 1899.49 L180.00 1899.56 L181.00 1899.55 L182.00 1900.00 L183.00 1899.07 L184.00 1899.35 L185.00 1899.54 L186.00 1899.73 L187.00 1898.44 L188.00 1899.11 L189.00 1899.22 L190.00 1898.93 L191.00 1899.59 L192.00 1899.37 L193.00 1899.16 L194.00 1898.72 L195.00 1898.83 L196.00 1898.95 L197.00 1899.45 L198.00 1898.87 L199.00 1898.57 L200.00 1898.79 L201.00 1899.09 L202.00 1899.88 L203.00 1900.17 L204.00 1899.13 L205.00 1899.62 L206.00 1899.78 L207.00 1899.74 L208.00 1899.25 L209.00 1898.84 L210.00 1899.12 L211.00 1898.64 L212.00 1899.38 L213.00 1899.57 L214.00 1898.63 L215.00 1899.28 L216.00 1899.40 L217.00 1899.73 L218.00 1899.78 L219.00 1899.57 L220.00 1899.05 L221.00 1899.16 L222.00 1899.71 L223.00 1899.08 L224.00 1899.28 L225.00 1899.84 L226.00 1899.34 L227.00 1898.81 L228.00 1899.19 L229.00 1899.52 L230.00 1899.23 L231.00 1899.70 L232.00 1899.74 L233.00 1899.07 L234.00 1899.12 L235.00 1899.26 L236.00 1898.87 L237.00 1899.42 L238.00 1899.23 L239.00 1899.57 L240.00 1899.08 L241.00 1898.98 L242.00 1899.94 L243.00 1898.98 L244.00 1899.09 L245.00 1899.04 L246.00 1899.19 L247.00 1898.97 L248.00 1899.28 L249.00 1899.05 L250.00 1899.15 L251.00 1899.42 L252.00 1899.54 L253.00 1899.46 L254.00 1899.03 L255.00 1899.43 L256.00 1899.25 L257.00 1899.25 L258.00 1898.69 L259.00 1899.53 L260.00 1899.24 L261.00 1899.89 L262.00 1899.52 L263.00 1898.90 L264.00 1898.81 L265.00 1899.69 L266.00 1898.99 L267.00 1899.53 L268.00 1899.19 L269.00 1900.03 L270.00 1899.32 L271.00 1899.82 L272.00 1899.76 L273.00 1899.13 L274.00 1899.18 L275.00 1899.81 L276.00 1899.29 L277.00 1898.99 L278.00 1899.72 L279.00 1900.20 L280.00 1899.28 L281.00 1899.79 L282.00 1899.24 L283.00 1899.77 L284.00 1899.22 L285.00 1899.77 L286.00 1899.49 L287.00 1899.24 L288.00 1899.39 L289.00 1899.12 L290.00 1898.91 L291.00 1898.94 L292.00 1899.29 L293.00 1898.94 L294.00 1899.46 L295.00 1899.50 L296.00 1899.48 L297.00 1899.14 L298.00 1899.33 L299.00 1899.30 L300.00 1899.78 L301.00 1899.03 L302.00 1899.18 L303.00 1899.23 L304.00 1899.26 L305.00 1899.05 L306.00 1899.09 L307.00 1899.67 L308.00 1899.09 L309.00 1899.64 L310.00 1900.03 L311.00 1899.76 L312.00 1898.68 L313.00 1899.59 L314.00 1899.48 L315.00 1899.51 L316.00 1898.74 L317.00 1899.58 L318.00 1898.93 L319.00 1899.77 L320.00 1899.69 L321.00 1900.21 L322.00 1899.18 L323.00 1898.78 L324.00 1899.68 L325.00 1899.62 L326.00 1899.18 L327.00 1899.79 L328.00 1899.55 L329.00 1898.86 L330.00 1899.19 L331.00 1899.15 L332.00 1899.27 L333.00 1899.38 L334.00 1899.07 L335.00 1899.24 L336.00 1899.52 L337.00 1899.28 L338.00 1899.22 L339.00 1899.20 L340.00 1899.27 L341.00 1898.64 L342.00 1899.37 L343.00 1898.95 L344.00 1899.35 L345.00 1898.79 L346.00 1899.63 L347.00 1899.39 L348.00 1898.84 L349.00 1899.39 L350.00 1899.04 L351.00 1899.94 L352.00 1899.48 L353.00 1899.03 L354.00 1899.39 L355.00 1899.30 L356.00 1899.73 L357.00 1899.43 L358.00 1899.49 L359.00 1898.92 L360.00 1899.59 L361.00 1900.04 L362.00 1899.53 L363.00 1899.30 L364.00 1899.37 L365.00 1898.98 L366.00 1899.37 L367.00 1898.93 L368.00 1899.33 L369.00 1899.17 L370.00 1899.02 L371.00 1899.51 L372.00 1898.79 L373.00 1899.30 L374.00 1898.85 L375.00 1899.95 L376.00 1900.00 L377.00 1899.61 L378.00 1899.97 L379.00 1899.52 L380.00 1899.50 L381.00 1899.16 L382.00 1899.00 L383.00 1899.35 L384.00 1899.12 L385.00 1899.15 L386.00 1899.56 L387.00 1899.26 L388.00 1898.76 L389.00 1899.23 L390.00 1899.04 L391.00 1899.20 L392.00 1898.92 L393.00 1899.73 L394.00 1899.97 L395.00 1898.92 L396.00 1899.53 L397.00 1899.52 L398.00 1898.93 L399.00 1899.34 L400.00 1899.80 L401.00 1899.60 L402.00 1899.87 L403.00 1898.89 L404.00 1899.04 L405.00 1899.41 L406.00 1899.43 L407.00 1899.31 L408.00 1899.17 L409.00 1899.16 L410.00 1899.09 L411.00 1899.46 L412.00 1898.33 L413.00 1899.86 L414.00 1899.11 L415.00 1898.80 L416.00 1899.49 L417.00 1898.81 L418.00 1899.43 L419.00 1899.16 L420.00 1899.50 L421.00 1899.57 L422.00 1899.75 L423.00 1899.12 L424.00 1899.19 L425.00 1899.29 L426.00 1898.80 L427.00 1899.50 L428.00 1899.34 L429.00 1898.82 L430.00 1899.72 L431.00 1899.77 L432.00 1898.83 L433.00 1899.49 L434.00 1899.73 L435.00 1899.58 L436.00 1898.95 L437.00 1898.80 L438.00 1899.25 L439.00 1899.12 L440.00 1899.29 L441.00 1899.25 L442.00 1899.47 L443.00 1899.09 L444.00 1899.23 L445.00 1900.33 L446.00 1899.24 L447.00 1899.54 L448.00 1899.39 L449.00 1899.36 L450.00 1898.97 L451.00 1899.47 L452.00 1899.27 L453.00 1899.57 L454.00 1900.00 L455.00 1899.35 L456.00 1899.55 L457.00 1898.92 L458.00 1899.32 L459.00 1899.82 L460.00 1899.26 L461.00 1899.06 L462.00 1899.35 L463.00 1899.22 L464.00 1899.20 L465.00 1899.15 L466.00 1899.97 L467.00 1898.97 L468.00 1899.13 L469.00 1899.08 L470.00 1899.71 L471.00 1899.18 L472.00 1899.73 L473.00 1899.33 L474.00 1899.27 L475.00 1898.76 L476.00 1899.70 L477.00 1899.46 L478.00 1899.42 L479.00 1899.23 L480.00 1899.13 L481.00 1898.83 L482.00 1899.60 L483.00 1899.37 L484.00 1899.15 L485.00 1899.05 L486.00 1899.31 L487.00 1899.24 L488.00 1899.85 L489.00 1899.54 L490.00 1899.06 L491.00 1898.88 L492.00 1899.19 L493.00 1898.95 L494.00 1899.30 L495.00 1899.41 L496.00 1899.49 L497.00 1899.41 L498.00 1899.20 L499.00 1899.48 L500.00 1898.96 L501.00 1899.24 L502.00 1899.55 L503.00 1899.37 L504.00 1898.82 L505.00 1898.86 L506.00 1898.70 L507.00 1899.90 L508.00 1898.72 L509.00 1899.22 L510.00 1899.91 L511.00 1899.64 L512.00 1899.72 L513.00 1899.09 L514.00 1899.52 L515.00 1900.33 L516.00 1899.25 L517.00 1899.40 L518.00 1899.15 L519.00 1899.25 L520.00 1899.39 L521.00 1899.74 L522.00 1898.94 L523.00 1898.75 L524.00 1899.26 L525.00 1899.32 L526.00 1899.75 L527.00 1899.50 L528.00 1899.03 L529.00 1899.45 L530.00 1899.64 L531.00 1899.35 L532.00 1899.13 L533.00 1899.48 L534.00 1899.12 L535.00 1898.59 L536.00 1899.70 L537.00 1898.78 L538.00 1899.12 L539.00 1899.12 L540.00 1899.11 L541.00 1899.13 L542.00 1898.72 L543.00 1899.41 L544.00 1899.23 L545.00 1899.23 L546.00 1899.59 L547.00 1899.60 L548.00 1899.68 L549.00 1899.85 L550.00 1899.36 L551.00 1898.66 L552.00 1899.27 L553.00 1899.20 L554.00 1899.21 L555.00 1898.97 L556.00 1898.87 L557.00 1899.45 L558.00 1899.50 L559.00 1898.77 L560.00 1899.34 L561.00 1899.09 L562.00 1899.00 L563.00 1899.37 L564.00 1899.10 L565.00 1898.91 L566.00 1899.11 L567.00 1898.38 L568.00 1898.86 L569.00 1898.89 L570.00 1898.54 L571.00 1899.06 L572.00 1899.07 L573.00 1898.73 L574.00 1898.85 L575.00 1899.10 L576.00 1899.19 L577.00 1898.49 L578.00 1898.80 L579.00 1898.96 L580.00 1898.47 L581.00 1898.07 L582.00 1897.89 L583.00 1897.80 L584.00 1897.23 L585.00 1897.84 L586.00 1896.32 L587.00 1895.78 L588.00 1894.54 L589.00 1893.26 L590.00 1891.58 L591.00 1890.76 L592.00 1892.50 L593.00 1893.30 L594.00 1894.77 L595.00 1895.90 L596.00 1897.08 L597.00 1897.49 L598.00 1898.05 L599.00 1898.23 L600.00 1898.22 L601.00 1898.43 L602.00 1898.21 L603.00 1897.89 L604.00 1898.57 L605.00 1898.35 L606.00 1899.68 L607.00 1899.37 L608.00 1899.27 L609.00 1898.70 L610.00 1899.63 L611.00 1898.34 L612.00 1898.53 L613.00 1898.70 L614.00 1898.65 L615.00 1899.04 L616.00 1899.07 L617.00 1899.68 L618.00 1899.36 L619.00 1899.45 L620.00 1899.17 L621.00 1898.97 L622.00 1898.79 L623.00 1898.50 L624.00 1898.72 L625.00 1898.89 L626.00 1899.29 L627.00 1898.43 L628.00 1898.54 L629.00 1899.09 L630.00 1898.64 L631.00 1899.12 L632.00 1898.85 L633.00 1898.72 L634.00 1898.50 L635.00 1898.93 L636.00 1898.69 L637.00 1898.71 L638.00 1898.69 L639.00 1898.95 L640.00 1898.91 L641.00 1898.23 L642.00 1898.74 L643.00 1898.89 L644.00 1899.06 L645.00 1898.91 L646.00 1898.63 L647.00 1898.06 L648.00 1898.06 L649.00 1898.48 L650.00 1897.68 L651.00 1897.97 L652.00 1897.59 L653.00 1896.07 L654.00 1895.49 L655.00 1893.46 L656.00 1891.22 L657.00 1886.72 L658.00 1883.86 L659.00 1886.56 L660.00 1890.17 L661.00 1893.42 L662.00 1895.36 L663.00 1896.44 L664.00 1897.19 L665.00 1897.22 L666.00 1897.20 L667.00 1897.93 L668.00 1897.91 L669.00 1898.09 L670.00 1899.17 L671.00 1898.90 L672.00 1898.48 L673.00 1898.08 L674.00 1898.16 L675.00 1898.76 L676.00 1899.02 L677.00 1898.56 L678.00 1898.72 L679.00 1898.76 L680.00 1899.05 L681.00 1898.01 L682.00 1898.72 L683.00 1898.80 L684.00 1898.98 L685.00 1898.78 L686.00 1898.24 L687.00 1898.41 L688.00 1898.06 L689.00 1898.64 L690.00 1898.62 L691.00 1898.71 L692.00 1898.16 L693.00 1898.08 L694.00 1898.98 L695.00 1898.47 L696.00 1898.99 L697.00 1898.49 L698.00 1897.78 L699.00 1898.53 L700.00 1898.63 L700.25 1898.02 L700.50 1897.49 L700.75 1898.39 L701.00 1898.09 L701.25 1898.22 L701.50 1897.17 L701.75 1898.26 L702.00 1897.12 L702.25 1897.76 L702.50 1898.36 L702.75 1897.39 L703.00 1897.36 L703.25 1897.84 L703.50 1898.56 L703.75 1898.53 L704.00 1897.73 L704.25 1898.27 L704.50 1898.11 L704.75 1897.98 L705.00 1897.99 L705.25 1897.59 L705.50 1898.10 L705.75 1898.17 L706.00 1898.72 L706.25 1898.08 L706.50 1896.87 L706.75 1897.29 L707.00 1897.80 L707.25 1897.68 L707.50 1896.98 L707.75 1897.56 L708.00 1897.45 L708.25 1897.53 L708.50 1897.48 L708.75 1897.82 L709.00 1897.98 L709.25 1897.67 L709.50 1897.01 L709.75 1897.07 L710.00 1897.10 L710.25 1897.28 L710.50 1897.12 L710.75 1897.11 L711.00 1896.87 L711.25 1897.49 L711.50 1897.42 L711.75 1897.41 L712.00 1897.01 L712.25 1897.15 L712.50 1896.63 L712.75 1896.55 L713.00 1896.67 L713.25 1897.02 L713.50 1896.71 L713.75 1896.31 L714.00 1896.69 L714.25 1896.75 L714.50 1896.61 L714.75 1896.26 L715.00 1896.46 L715.25 1896.23 L715.50 1896.20 L715.75 1896.21 L716.00 1896.44 L716.25 1896.75 L716.50 1896.58 L716.75 1896.18 L717.00 1895.74 L717.25 1895.70 L717.50 1895.63 L717.75 1896.04 L718.00 1894.58 L718.25 1895.54 L718.50 1894.66 L718.75 1895.26 L719.00 1895.62 L719.25 1894.73 L719.50 1894.14 L719.75 1895.28 L720.00 1895.23 L720.25 1894.75 L720.50 1894.88 L720.75 1894.03 L721.00 1894.58 L721.25 1894.61 L721.50 1894.09 L721.75 1893.80 L722.00 1893.98 L722.25 1893.75 L722.50 1892.91 L722.75 1893.45 L723.00 1893.03 L723.25 1892.61 L723.50 1892.79 L723.75 1892.42 L724.00 1892.11 L724.25 1891.40 L724.50 1891.60 L724.75 1890.63 L725.00 1890.66 L725.25 1889.79 L725.50 1889.44 L725.75 1889.83 L726.00 1889.25 L726.25 1888.90 L726.50 1888.64 L726.75 1888.09 L727.00 1887.16 L727.25 1886.96 L727.50 1886.34 L727.75 1885.58 L728.00 1885.06 L728.25 1884.27 L728.50 1883.41 L728.75 1882.70 L729.00 1882.02 L729.25 1881.69 L729.50 1879.64 L729.75 1878.97 L730.00 1877.04 L730.25 1876.74 L730.50 1874.57 L730.75 1873.09 L731.00 1871.66 L731.25 1869.54 L731.50 1866.42 L731.75 1864.62 L732.00 1861.51 L732.25 1858.62 L732.50 1854.84 L732.75 1850.91 L733.00 1846.02 L733.25 1840.41 L733.50 1834.52 L733.75 1826.14 L734.00 1817.75 L734.25 1807.12 L734.50 1794.85 L734.75 1779.51 L735.00 1760.93 L735.25 1737.67 L735.50 1708.77 L735.75 1672.00 L736.00 1626.77 L736.25 1569.75 L736.50 1500.04 L736.75 1420.81 L737.00 1340.91 L737.25 1279.08 L737.50 1254.35 L737.75 1278.63 L738.00 1341.03 L738.25 1420.86 L738.50 1499.95 L738.75 1570.18 L739.00 1626.19 L739.25 1672.68 L739.50 1708.92 L739.75 1737.75 L740.00 1760.43 L740.25 1779.23 L740.50 1795.25 L740.75 1807.21 L741.00 1818.21 L741.25 1826.91 L741.50 1834.32 L741.75 1840.73 L742.00 1845.50 L742.25 1850.49 L742.50 1855.02 L742.75 1857.96 L743.00 1862.18 L743.25 1864.23 L743.50 1866.92 L743.75 1868.84 L744.00 1871.35 L744.25 1872.79 L744.50 1874.61 L744.75 1875.79 L745.00 1877.97 L745.25 1878.22 L745.50 1880.09 L745.75 1881.06 L746.00 1882.09 L746.25 1882.47 L746.50 1884.01 L746.75 1884.74 L747.00 1885.17 L747.25 1885.87 L747.50 1886.32 L747.75 1887.17 L748.00 1887.19 L748.25 1888.17 L748.50 1888.58 L748.75 1888.39 L749.00 1888.37 L749.25 1889.64 L749.50 1889.99 L749.75 1890.82 L750.00 1890.74 L750.25 1890.85 L750.50 1890.84 L750.75 1891.56 L751.00 1891.65 L751.25 1891.72 L751.50 1892.30 L751.75 1892.94 L752.00 1892.81 L752.25 1892.62 L752.50 1893.29 L752.75 1892.98 L753.00 1892.99 L753.25 1893.89 L753.50 1893.68 L753.75 1894.42 L754.00 1894.29 L754.25 1894.04 L754.50 1894.54 L754.75 1895.04 L755.00 1894.65 L755.25 1894.47 L755.50 1894.72 L755.75 1894.78 L756.00 1894.76 L756.25 1894.82 L756.50 1895.52 L756.75 1895.86 L757.00 1895.44 L757.25 1895.93 L757.50 1896.06 L757.75 1896.41 L758.00 1895.84 L758.25 1895.86 L758.50 1896.20 L758.75 1896.16 L759.00 1896.30 L759.25 1896.72 L759.50 1896.18 L759.75 1896.47 L760.00 1896.11 L760.25 1896.46 L760.50 1896.34 L760.75 1896.36 L761.00 1896.60 L761.25 1896.58 L761.50 1896.91 L761.75 1897.12 L762.00 1896.36 L762.25 1897.28 L762.50 1896.20 L762.75 1897.11 L763.00 1897.31 L763.25 1896.88 L763.50 1897.06 L763.75 1896.91 L764.00 1897.53 L764.25 1896.15 L764.50 1896.95 L764.75 1896.65 L765.00 1897.43 L765.25 1897.85 L765.50 1897.85 L765.75 1897.70 L766.00 1897.58 L766.25 1897.26 L766.50 1897.98 L766.75 1897.80 L767.00 1897.31 L767.25 1897.19 L767.50 1897.44 L767.75 1898.07 L768.00 1898.15 L768.25 1898.31 L768.50 1897.49 L768.75 1897.66 L769.00 1898.30 L769.25 1897.91 L769.50 1898.12 L769.75 1897.42 L770.00 1897.77 L770.25 1897.91 L770.50 1897.82 L770.75 1897.82 L771.00 1897.41 L771.25 1898.57 L771.50 1898.07 L771.75 1897.53 L772.00 1898.43 L772.25 1898.10 L772.50 1898.34 L772.75 1898.04 L773.00 1897.85 L773.25 1897.87 L773.50 1898.28 L773.75 1898.44 L774.00 1898.36 L774.25 1898.43 L774.50 1898.64 L774.75 1898.33 L775.00 1898.60 L775.25 1898.65 L775.50 1898.38 L775.75 1898.26 L776.00 1898.15 L776.25 1897.89 L776.50 1897.78 L776.75 1898.80 L777.00 1898.35 L777.25 1898.17 L777.50 1898.93 L777.75 1898.73 L778.00 1898.42 L778.25 1898.76 L778.50 1898.36 L778.75 1898.56 L779.00 1899.08 L779.25 1898.83 L779.50 1898.37 L779.75 1898.72 L780.00 1898.90 L781.00 1898.48 L782.00 1898.41 L783.00 1899.25 L784.00 1898.52 L785.00 1898.19 L786.00 1898.73 L787.00 1899.51 L788.00 1898.96 L789.00 1899.10 L790.00 1898.02 L791.00 1898.61 L792.00 1899.25 L793.00 1898.71 L794.00 1899.33 L795.00 1899.05 L796.00 1899.04 L797.00 1899.50 L798.00 1898.75 L799.00 1898.78 L800.00 1898.99 L801.00 1899.05 L802.00 1898.39 L803.00 1899.42 L804.00 1899.08 L805.00 1898.95 L806.00 1899.24 L807.00 1898.89 L808.00 1899.46 L809.00 1899.07 L810.00 1899.31 L811.00 1898.75 L812.00 1898.97 L813.00 1899.21 L814.00 1898.75 L815.00 1898.86 L816.00 1899.08 L817.00 1899.49 L818.00 1899.38 L819.00 1899.43 L820.00 1899.23 L821.00 1899.44 L822.00 1899.67 L823.00 1899.19 L824.00 1899.29 L825.00 1899.35 L826.00 1898.45 L827.00 1899.12 L828.00 1899.30 L829.00 1899.42 L830.00 1899.05 L831.00 1899.51 L832.00 1898.95 L833.00 1899.11 L834.00 1899.76 L835.00 1898.71 L836.00 1899.15 L837.00 1899.13 L838.00 1899.15 L839.00 1899.00 L840.00 1899.42 L841.00 1898.82 L842.00 1898.73 L843.00 1899.36 L844.00 1898.78 L845.00 1899.33 L846.00 1899.21 L847.00 1898.96 L848.00 1899.08 L849.00 1899.17 L850.00 1899.36 L851.00 1898.99 L852.00 1899.14 L853.00 1898.71 L854.00 1899.12 L855.00 1898.54 L856.00 1899.20 L857.00 1899.06 L858.00 1899.95 L859.00 1899.67 L860.00 1899.17 L861.00 1899.55 L862.00 1899.32 L863.00 1898.82 L864.00 1898.37 L865.00 1899.61 L866.00 1899.36 L867.00 1898.54 L868.00 1899.45 L869.00 1899.54 L870.00 1898.99 L871.00 1899.50 L872.00 1898.63 L873.00 1899.15 L874.00 1899.24 L875.00 1899.50 L876.00 1899.37 L877.00 1899.31 L878.00 1899.43 L879.00 1899.00 L880.00 1899.75 L881.00 1899.12 L882.00 1899.51 L883.00 1899.23 L884.00 1899.15 L885.00 1899.44 L886.00 1899.39 L887.00 1899.71 L888.00 1899.62 L889.00 1899.04 L890.00 1899.42 L891.00 1899.28 L892.00 1898.97 L893.00 1898.86 L894.00 1899.33 L895.00 1899.06 L896.00 1898.76 L897.00 1899.21 L898.00 1899.33 L899.00 1899.28 L900.00 1898.83 L901.00 1899.05 L902.00 1899.73 L903.00 1898.98 L904.00 1899.14 L905.00 1900.06 L906.00 1899.37 L907.00 1899.08 L908.00 1898.57 L909.00 1899.36 L910.00 1898.77 L911.00 1899.24 L912.00 1898.95 L913.00 1898.67 L914.00 1899.83 L915.00 1899.22 L916.00 1899.58 L917.00 1899.51 L918.00 1899.00 L919.00 1899.29 L920.00 1899.13 L921.00 1899.59 L922.00 1899.41 L923.00 1899.13 L924.00 1899.84 L925.00 1899.44 L926.00 1899.42 L927.00 1898.98 L928.00 1899.40 L929.00 1898.75 L930.00 1899.42 L931.00 1898.93 L932.00 1899.32 L933.00 1899.16 L934.00 1899.34" fill="none" stroke="#a32b19" stroke-width="5.2" stroke-linejoin="round"/>
<text x="419.28" y="1852.00" font-size="49.00" font-weight="bold" textLength="187.00" lengthAdjust="spacingAndGlyphs">hydrate</text>
<text x="502.89" y="1742.00" font-size="49.00" font-weight="bold" textLength="186.21" lengthAdjust="spacingAndGlyphs">free+3b</text>
<text x="771.53" y="1734.40" font-size="49.00" font-weight="bold" textLength="52.72" lengthAdjust="spacingAndGlyphs">3a</text>
<line x1="530.70" y1="1862.60" x2="581.70" y2="1879.40" stroke="#231f20" stroke-width="5.4" stroke-dasharray="11.14 10.13"/>
<line x1="606.10" y1="1758.80" x2="659.60" y2="1870.30" stroke="#231f20" stroke-width="5.4" stroke-dasharray="11.73 10.66"/>
<line x1="792.40" y1="1749.60" x2="761.90" y2="1797.00" stroke="#231f20" stroke-width="5.4" stroke-dasharray="11.70 10.63"/>
<text x="271.21" y="1433.50" font-size="49.00" textLength="61.50" lengthAdjust="spacingAndGlyphs">[1-</text>
<text x="337.73" y="1415.20" font-size="28.00" textLength="27.79" lengthAdjust="spacingAndGlyphs">13</text>
<text x="367.02" y="1433.50" font-size="49.00" textLength="239.14" lengthAdjust="spacingAndGlyphs">C]= 30mM</text>
<text x="242.26" y="1509.20" font-size="49.00" font-weight="bold" font-style="italic" fill="#ff0000" textLength="28.12" lengthAdjust="spacingAndGlyphs">P</text>
<text x="269.36" y="1526.10" font-size="28.00" font-weight="bold" fill="#ff0000" textLength="54.04" lengthAdjust="spacingAndGlyphs">13C</text>
<text x="332.23" y="1509.20" font-size="40.00" font-weight="bold" fill="#ff0000" textLength="184.51" lengthAdjust="spacingAndGlyphs">(free+3b)</text>
<text x="517.16" y="1509.20" font-size="49.00" fill="#ff0000" textLength="173.90" lengthAdjust="spacingAndGlyphs">&lt;0.06%</text>
<text x="271.06" y="1591.40" font-size="49.00" font-weight="bold" font-style="italic" fill="#ff0000" textLength="28.12" lengthAdjust="spacingAndGlyphs">P</text>
<text x="298.68" y="1607.00" font-size="28.00" font-weight="bold" fill="#ff0000" textLength="53.41" lengthAdjust="spacingAndGlyphs">13C</text>
<text x="353.16" y="1591.40" font-size="40.00" font-weight="bold" fill="#ff0000" textLength="76.01" lengthAdjust="spacingAndGlyphs">(3a)</text>
<text x="440.18" y="1591.40" font-size="49.00" fill="#ff0000" textLength="172.57" lengthAdjust="spacingAndGlyphs">&gt;16.0%</text>
<text x="1137.12" y="1175.02" font-size="97.96" font-weight="bold" textLength="62.30" lengthAdjust="spacingAndGlyphs">d</text>
<text x="1304.18" y="1128.80" font-size="69.60" font-weight="bold" fill="#231f20" textLength="483.90" lengthAdjust="spacingAndGlyphs">Hyperpolarized</text>
<text x="1315.46" y="1207.90" font-size="69.00" font-weight="bold" fill="#231f20" textLength="80.97" lengthAdjust="spacingAndGlyphs">[1-</text>
<text x="1394.60" y="1185.60" font-size="39.00" font-weight="bold" fill="#231f20" textLength="42.63" lengthAdjust="spacingAndGlyphs">13</text>
<text x="1436.82" y="1207.90" font-size="69.00" font-weight="bold" fill="#231f20" textLength="359.58" lengthAdjust="spacingAndGlyphs">C]KIC +HCl</text>
<text x="1121.51" y="1285.20" font-size="48.50" textLength="26.64" lengthAdjust="spacingAndGlyphs">×</text>
<text x="1150.34" y="1286.50" font-size="51.00" textLength="54.31" lengthAdjust="spacingAndGlyphs">10</text>
<text x="1203.45" y="1257.60" font-size="34.00" textLength="18.06" lengthAdjust="spacingAndGlyphs">−</text>
<text x="1222.75" y="1257.60" font-size="34.00" textLength="18.50" lengthAdjust="spacingAndGlyphs">3</text>
<line x1="1180.00" y1="1298.00" x2="1180.00" y2="1928.80" stroke="#000" stroke-width="4.5" />
<line x1="1169.10" y1="1864.00" x2="1180.00" y2="1864.00" stroke="#000" stroke-width="4" stroke-linecap="round"/>
<line x1="1169.10" y1="1780.00" x2="1180.00" y2="1780.00" stroke="#000" stroke-width="4" stroke-linecap="round"/>
<line x1="1169.10" y1="1696.00" x2="1180.00" y2="1696.00" stroke="#000" stroke-width="4" stroke-linecap="round"/>
<line x1="1169.10" y1="1612.00" x2="1180.00" y2="1612.00" stroke="#000" stroke-width="4" stroke-linecap="round"/>
<line x1="1169.10" y1="1528.00" x2="1180.00" y2="1528.00" stroke="#000" stroke-width="4" stroke-linecap="round"/>
<line x1="1169.10" y1="1444.00" x2="1180.00" y2="1444.00" stroke="#000" stroke-width="4" stroke-linecap="round"/>
<line x1="1169.10" y1="1360.00" x2="1180.00" y2="1360.00" stroke="#000" stroke-width="4" stroke-linecap="round"/>
<line x1="1174.20" y1="1914.40" x2="1180.00" y2="1914.40" stroke="#000" stroke-width="4" stroke-linecap="round"/>
<line x1="1174.20" y1="1897.60" x2="1180.00" y2="1897.60" stroke="#000" stroke-width="4" stroke-linecap="round"/>
<line x1="1174.20" y1="1880.80" x2="1180.00" y2="1880.80" stroke="#000" stroke-width="4" stroke-linecap="round"/>
<line x1="1174.20" y1="1847.20" x2="1180.00" y2="1847.20" stroke="#000" stroke-width="4" stroke-linecap="round"/>
<line x1="1174.20" y1="1830.40" x2="1180.00" y2="1830.40" stroke="#000" stroke-width="4" stroke-linecap="round"/>
<line x1="1174.20" y1="1813.60" x2="1180.00" y2="1813.60" stroke="#000" stroke-width="4" stroke-linecap="round"/>
<line x1="1174.20" y1="1796.80" x2="1180.00" y2="1796.80" stroke="#000" stroke-width="4" stroke-linecap="round"/>
<line x1="1174.20" y1="1763.20" x2="1180.00" y2="1763.20" stroke="#000" stroke-width="4" stroke-linecap="round"/>
<line x1="1174.20" y1="1746.40" x2="1180.00" y2="1746.40" stroke="#000" stroke-width="4" stroke-linecap="round"/>
<line x1="1174.20" y1="1729.60" x2="1180.00" y2="1729.60" stroke="#000" stroke-width="4" stroke-linecap="round"/>
<line x1="1174.20" y1="1712.80" x2="1180.00" y2="1712.80" stroke="#000" stroke-width="4" stroke-linecap="round"/>
<line x1="1174.20" y1="1679.20" x2="1180.00" y2="1679.20" stroke="#000" stroke-width="4" stroke-linecap="round"/>
<line x1="1174.20" y1="1662.40" x2="1180.00" y2="1662.40" stroke="#000" stroke-width="4" stroke-linecap="round"/>
<line x1="1174.20" y1="1645.60" x2="1180.00" y2="1645.60" stroke="#000" stroke-width="4" stroke-linecap="round"/>
<line x1="1174.20" y1="1628.80" x2="1180.00" y2="1628.80" stroke="#000" stroke-width="4" stroke-linecap="round"/>
<line x1="1174.20" y1="1595.20" x2="1180.00" y2="1595.20" stroke="#000" stroke-width="4" stroke-linecap="round"/>
<line x1="1174.20" y1="1578.40" x2="1180.00" y2="1578.40" stroke="#000" stroke-width="4" stroke-linecap="round"/>
<line x1="1174.20" y1="1561.60" x2="1180.00" y2="1561.60" stroke="#000" stroke-width="4" stroke-linecap="round"/>
<line x1="1174.20" y1="1544.80" x2="1180.00" y2="1544.80" stroke="#000" stroke-width="4" stroke-linecap="round"/>
<line x1="1174.20" y1="1511.20" x2="1180.00" y2="1511.20" stroke="#000" stroke-width="4" stroke-linecap="round"/>
<line x1="1174.20" y1="1494.40" x2="1180.00" y2="1494.40" stroke="#000" stroke-width="4" stroke-linecap="round"/>
<line x1="1174.20" y1="1477.60" x2="1180.00" y2="1477.60" stroke="#000" stroke-width="4" stroke-linecap="round"/>
<line x1="1174.20" y1="1460.80" x2="1180.00" y2="1460.80" stroke="#000" stroke-width="4" stroke-linecap="round"/>
<line x1="1174.20" y1="1427.20" x2="1180.00" y2="1427.20" stroke="#000" stroke-width="4" stroke-linecap="round"/>
<line x1="1174.20" y1="1410.40" x2="1180.00" y2="1410.40" stroke="#000" stroke-width="4" stroke-linecap="round"/>
<line x1="1174.20" y1="1393.60" x2="1180.00" y2="1393.60" stroke="#000" stroke-width="4" stroke-linecap="round"/>
<line x1="1174.20" y1="1376.80" x2="1180.00" y2="1376.80" stroke="#000" stroke-width="4" stroke-linecap="round"/>
<line x1="1174.20" y1="1343.20" x2="1180.00" y2="1343.20" stroke="#000" stroke-width="4" stroke-linecap="round"/>
<line x1="1174.20" y1="1326.40" x2="1180.00" y2="1326.40" stroke="#000" stroke-width="4" stroke-linecap="round"/>
<line x1="1174.20" y1="1309.60" x2="1180.00" y2="1309.60" stroke="#000" stroke-width="4" stroke-linecap="round"/>
<line x1="1177.70" y1="1926.50" x2="1893.00" y2="1926.50" stroke="#000" stroke-width="4.5" />
<line x1="1183.10" y1="1926.50" x2="1183.10" y2="1936.80" stroke="#000" stroke-width="4" stroke-linecap="round"/>
<line x1="1330.60" y1="1926.50" x2="1330.60" y2="1936.80" stroke="#000" stroke-width="4" stroke-linecap="round"/>
<line x1="1478.10" y1="1926.50" x2="1478.10" y2="1936.80" stroke="#000" stroke-width="4" stroke-linecap="round"/>
<line x1="1625.60" y1="1926.50" x2="1625.60" y2="1936.80" stroke="#000" stroke-width="4" stroke-linecap="round"/>
<line x1="1773.10" y1="1926.50" x2="1773.10" y2="1936.80" stroke="#000" stroke-width="4" stroke-linecap="round"/>
<line x1="1212.60" y1="1926.50" x2="1212.60" y2="1932.10" stroke="#000" stroke-width="4" stroke-linecap="round"/>
<line x1="1242.10" y1="1926.50" x2="1242.10" y2="1932.10" stroke="#000" stroke-width="4" stroke-linecap="round"/>
<line x1="1271.60" y1="1926.50" x2="1271.60" y2="1932.10" stroke="#000" stroke-width="4" stroke-linecap="round"/>
<line x1="1301.10" y1="1926.50" x2="1301.10" y2="1932.10" stroke="#000" stroke-width="4" stroke-linecap="round"/>
<line x1="1360.10" y1="1926.50" x2="1360.10" y2="1932.10" stroke="#000" stroke-width="4" stroke-linecap="round"/>
<line x1="1389.60" y1="1926.50" x2="1389.60" y2="1932.10" stroke="#000" stroke-width="4" stroke-linecap="round"/>
<line x1="1419.10" y1="1926.50" x2="1419.10" y2="1932.10" stroke="#000" stroke-width="4" stroke-linecap="round"/>
<line x1="1448.60" y1="1926.50" x2="1448.60" y2="1932.10" stroke="#000" stroke-width="4" stroke-linecap="round"/>
<line x1="1507.60" y1="1926.50" x2="1507.60" y2="1932.10" stroke="#000" stroke-width="4" stroke-linecap="round"/>
<line x1="1537.10" y1="1926.50" x2="1537.10" y2="1932.10" stroke="#000" stroke-width="4" stroke-linecap="round"/>
<line x1="1566.60" y1="1926.50" x2="1566.60" y2="1932.10" stroke="#000" stroke-width="4" stroke-linecap="round"/>
<line x1="1596.10" y1="1926.50" x2="1596.10" y2="1932.10" stroke="#000" stroke-width="4" stroke-linecap="round"/>
<line x1="1655.10" y1="1926.50" x2="1655.10" y2="1932.10" stroke="#000" stroke-width="4" stroke-linecap="round"/>
<line x1="1684.60" y1="1926.50" x2="1684.60" y2="1932.10" stroke="#000" stroke-width="4" stroke-linecap="round"/>
<line x1="1714.10" y1="1926.50" x2="1714.10" y2="1932.10" stroke="#000" stroke-width="4" stroke-linecap="round"/>
<line x1="1743.60" y1="1926.50" x2="1743.60" y2="1932.10" stroke="#000" stroke-width="4" stroke-linecap="round"/>
<line x1="1802.60" y1="1926.50" x2="1802.60" y2="1932.10" stroke="#000" stroke-width="4" stroke-linecap="round"/>
<line x1="1832.10" y1="1926.50" x2="1832.10" y2="1932.10" stroke="#000" stroke-width="4" stroke-linecap="round"/>
<line x1="1861.60" y1="1926.50" x2="1861.60" y2="1932.10" stroke="#000" stroke-width="4" stroke-linecap="round"/>
<line x1="1891.10" y1="1926.50" x2="1891.10" y2="1932.10" stroke="#000" stroke-width="4" stroke-linecap="round"/>
<text x="1127.83" y="1372.40" font-size="51.00" textLength="28.40" lengthAdjust="spacingAndGlyphs">8</text>
<text x="1128.93" y="1540.40" font-size="51.00" textLength="26.43" lengthAdjust="spacingAndGlyphs">4</text>
<text x="1127.99" y="1708.40" font-size="51.00" textLength="27.95" lengthAdjust="spacingAndGlyphs">0</text>
<text x="1099.52" y="1876.40" font-size="51.00" textLength="27.81" lengthAdjust="spacingAndGlyphs">−</text>
<text x="1130.89" y="1876.40" font-size="51.00" textLength="27.42" lengthAdjust="spacingAndGlyphs">4</text>
<text x="1126.40" y="1989.70" font-size="51.00" textLength="28.06" lengthAdjust="spacingAndGlyphs">−</text>
<text x="1159.69" y="1989.70" font-size="51.00" textLength="54.98" lengthAdjust="spacingAndGlyphs">10</text>
<text x="1273.30" y="1989.70" font-size="51.00" textLength="28.06" lengthAdjust="spacingAndGlyphs">−</text>
<text x="1306.98" y="1989.70" font-size="51.00" textLength="55.11" lengthAdjust="spacingAndGlyphs">15</text>
<text x="1419.10" y="1989.70" font-size="51.00" textLength="28.06" lengthAdjust="spacingAndGlyphs">−</text>
<text x="1453.03" y="1989.70" font-size="51.00" textLength="54.94" lengthAdjust="spacingAndGlyphs">20</text>
<text x="1566.10" y="1989.70" font-size="51.00" textLength="28.06" lengthAdjust="spacingAndGlyphs">−</text>
<text x="1600.52" y="1989.70" font-size="51.00" textLength="55.07" lengthAdjust="spacingAndGlyphs">25</text>
<text x="1713.60" y="1989.70" font-size="51.00" textLength="28.06" lengthAdjust="spacingAndGlyphs">−</text>
<text x="1748.47" y="1989.70" font-size="51.00" textLength="54.27" lengthAdjust="spacingAndGlyphs">30</text>
<text x="1206.10" y="2054.90" font-size="46.00" textLength="25.58" lengthAdjust="spacingAndGlyphs">1</text>
<text x="1233.19" y="2071.70" font-size="60.00" textLength="602.28" lengthAdjust="spacingAndGlyphs">H Chemical Shift (ppm)</text>
<text transform="translate(1082.10 1779.20) rotate(-90)" x="-4.82" y="0" font-size="60.00" fill="#231f20" textLength="373.08" lengthAdjust="spacingAndGlyphs">H Signal (a.u.)</text>
<text transform="translate(1065.40 1808.75) rotate(-90)" x="-3.45" y="0" font-size="46.00" fill="#231f20" textLength="25.58" lengthAdjust="spacingAndGlyphs">1</text>
<path d="M1183.00 1700.75 L1183.40 1698.72 L1183.80 1698.71 L1184.20 1691.74 L1184.60 1689.73 L1185.00 1705.08 L1185.40 1701.72 L1185.80 1691.73 L1186.20 1708.19 L1186.60 1695.42 L1187.00 1701.37 L1187.40 1700.94 L1187.80 1699.39 L1188.20 1701.81 L1188.60 1692.16 L1189.00 1698.66 L1189.40 1697.59 L1189.80 1699.24 L1190.20 1697.47 L1190.60 1695.66 L1191.00 1695.22 L1191.40 1703.08 L1191.80 1694.63 L1192.20 1700.51 L1192.60 1700.44 L1193.00 1698.25 L1193.40 1700.78 L1193.80 1701.35 L1194.20 1696.11 L1194.60 1700.33 L1195.00 1707.96 L1195.40 1693.45 L1195.80 1697.19 L1196.20 1694.91 L1196.60 1708.32 L1197.00 1691.79 L1197.40 1698.66 L1197.80 1703.14 L1198.20 1694.37 L1198.60 1697.93 L1199.00 1695.11 L1199.40 1692.04 L1199.80 1698.22 L1200.20 1700.96 L1200.60 1696.61 L1201.00 1699.34 L1201.40 1701.86 L1201.80 1704.34 L1202.20 1692.49 L1202.60 1701.49 L1203.00 1695.47 L1203.40 1689.30 L1203.80 1694.69 L1204.20 1701.60 L1204.60 1699.96 L1205.00 1693.10 L1205.40 1706.28 L1205.80 1700.40 L1206.20 1698.10 L1206.60 1695.78 L1207.00 1700.45 L1207.40 1696.52 L1207.80 1703.93 L1208.20 1699.92 L1208.60 1701.39 L1209.00 1696.89 L1209.40 1691.17 L1209.80 1700.94 L1210.20 1693.44 L1210.60 1697.83 L1211.00 1698.28 L1211.40 1694.53 L1211.80 1702.66 L1212.20 1691.36 L1212.60 1705.58 L1213.00 1695.43 L1213.40 1703.00 L1213.80 1704.60 L1214.20 1694.09 L1214.60 1694.70 L1215.00 1702.86 L1215.40 1699.18 L1215.80 1698.67 L1216.20 1689.35 L1216.60 1690.26 L1217.00 1700.86 L1217.40 1705.23 L1217.80 1694.78 L1218.20 1694.02 L1218.60 1699.24 L1219.00 1700.48 L1219.40 1700.95 L1219.80 1696.07 L1220.20 1688.74 L1220.60 1705.29 L1221.00 1695.78 L1221.40 1704.30 L1221.80 1688.50 L1222.20 1699.98 L1222.60 1695.74 L1223.00 1692.89 L1223.40 1702.88 L1223.80 1704.44 L1224.20 1695.30 L1224.60 1701.29 L1225.00 1692.92 L1225.40 1695.13 L1225.80 1696.94 L1226.20 1696.44 L1226.60 1701.23 L1227.00 1692.26 L1227.40 1702.82 L1227.80 1702.81 L1228.20 1697.05 L1228.60 1692.35 L1229.00 1686.54 L1229.40 1697.79 L1229.80 1694.61 L1230.20 1698.59 L1230.60 1692.96 L1231.00 1698.10 L1231.40 1697.78 L1231.80 1698.13 L1232.20 1699.46 L1232.60 1699.49 L1233.00 1702.78 L1233.40 1694.26 L1233.80 1701.56 L1234.20 1698.84 L1234.60 1696.03 L1235.00 1693.22 L1235.40 1705.13 L1235.80 1699.21 L1236.20 1695.55 L1236.60 1698.40 L1237.00 1698.07 L1237.40 1695.51 L1237.80 1691.36 L1238.20 1698.79 L1238.60 1697.25 L1239.00 1696.67 L1239.40 1702.81 L1239.80 1691.68 L1240.20 1693.41 L1240.60 1698.81 L1241.00 1702.07 L1241.40 1701.00 L1241.80 1701.56 L1242.20 1687.38 L1242.60 1700.44 L1243.00 1700.05 L1243.40 1701.34 L1243.80 1694.70 L1244.20 1700.50 L1244.60 1702.89 L1245.00 1705.81 L1245.40 1699.26 L1245.80 1691.59 L1246.20 1698.30 L1246.60 1701.16 L1247.00 1700.52 L1247.40 1707.31 L1247.80 1697.07 L1248.20 1693.11 L1248.60 1694.96 L1249.00 1701.22 L1249.40 1694.16 L1249.80 1693.00 L1250.20 1693.99 L1250.60 1703.90 L1251.00 1699.20 L1251.40 1696.42 L1251.80 1702.16 L1252.20 1701.38 L1252.60 1693.33 L1253.00 1702.07 L1253.40 1699.23 L1253.80 1688.07 L1254.20 1692.31 L1254.60 1699.32 L1255.00 1700.41 L1255.40 1696.67 L1255.80 1693.23 L1256.20 1699.27 L1256.60 1689.21 L1257.00 1700.77 L1257.40 1697.35 L1257.80 1697.95 L1258.20 1694.93 L1258.60 1702.10 L1259.00 1686.81 L1259.40 1693.90 L1259.80 1700.90 L1260.20 1694.70 L1260.60 1705.19 L1261.00 1700.17 L1261.40 1694.43 L1261.80 1703.50 L1262.20 1697.70 L1262.60 1700.98 L1263.00 1695.19 L1263.40 1695.27 L1263.80 1701.62 L1264.20 1698.68 L1264.60 1694.55 L1265.00 1693.96 L1265.40 1701.37 L1265.80 1706.75 L1266.20 1694.19 L1266.60 1701.54 L1267.00 1684.19 L1267.40 1691.56 L1267.80 1701.55 L1268.20 1705.97 L1268.60 1698.59 L1269.00 1700.93 L1269.40 1699.56 L1269.80 1703.19 L1270.20 1693.07 L1270.60 1701.39 L1271.00 1696.23 L1271.40 1696.69 L1271.80 1698.31 L1272.20 1697.35 L1272.60 1694.63 L1273.00 1697.11 L1273.40 1693.78 L1273.80 1705.52 L1274.20 1701.75 L1274.60 1696.37 L1275.00 1706.06 L1275.40 1704.59 L1275.80 1700.74 L1276.20 1695.80 L1276.60 1699.64 L1277.00 1701.16 L1277.40 1705.12 L1277.80 1697.54 L1278.20 1695.68 L1278.60 1709.50 L1279.00 1705.13 L1279.40 1699.94 L1279.80 1693.99 L1280.20 1700.79 L1280.60 1703.85 L1281.00 1702.10 L1281.40 1702.44 L1281.80 1698.67 L1282.20 1703.96 L1282.60 1695.55 L1283.00 1696.35 L1283.40 1696.06 L1283.80 1695.36 L1284.20 1707.91 L1284.60 1690.30 L1285.00 1699.63 L1285.40 1693.73 L1285.80 1692.48 L1286.20 1698.98 L1286.60 1690.92 L1287.00 1698.06 L1287.40 1709.60 L1287.80 1697.97 L1288.20 1700.72 L1288.60 1694.40 L1289.00 1700.85 L1289.40 1691.30 L1289.80 1699.44 L1290.20 1697.90 L1290.60 1709.01 L1291.00 1698.08 L1291.40 1696.73 L1291.80 1695.77 L1292.20 1692.67 L1292.60 1702.21 L1293.00 1705.51 L1293.40 1696.68 L1293.80 1701.93 L1294.20 1696.77 L1294.60 1700.44 L1295.00 1700.72 L1295.40 1691.55 L1295.80 1694.75 L1296.20 1703.05 L1296.60 1689.26 L1297.00 1698.55 L1297.40 1696.85 L1297.80 1694.01 L1298.20 1698.77 L1298.60 1700.03 L1299.00 1701.16 L1299.40 1685.76 L1299.80 1706.71 L1300.20 1696.24 L1300.60 1703.63 L1301.00 1697.98 L1301.40 1695.75 L1301.80 1698.28 L1302.20 1714.02 L1302.60 1706.22 L1303.00 1696.93 L1303.40 1699.74 L1303.80 1704.11 L1304.20 1701.49 L1304.60 1699.09 L1305.00 1697.78 L1305.40 1693.47 L1305.80 1702.38 L1306.20 1704.11 L1306.60 1709.62 L1307.00 1696.13 L1307.40 1701.97 L1307.80 1698.68 L1308.20 1704.97 L1308.60 1698.40 L1309.00 1695.76 L1309.40 1690.73 L1309.80 1702.44 L1310.20 1699.78 L1310.60 1704.49 L1311.00 1696.39 L1311.40 1711.69 L1311.80 1695.70 L1312.20 1701.66 L1312.60 1701.22 L1313.00 1704.60 L1313.40 1698.49 L1313.80 1694.89 L1314.20 1694.59 L1314.60 1703.36 L1315.00 1699.97 L1315.40 1701.17 L1315.80 1695.62 L1316.20 1700.28 L1316.60 1700.71 L1317.00 1702.69 L1317.40 1692.71 L1317.80 1696.12 L1318.20 1708.22 L1318.60 1698.04 L1319.00 1699.60 L1319.40 1698.16 L1319.80 1693.00 L1320.20 1695.20 L1320.60 1702.34 L1321.00 1697.57 L1321.40 1710.74 L1321.80 1694.22 L1322.20 1692.47 L1322.60 1700.20 L1323.00 1696.75 L1323.40 1709.37 L1323.80 1701.34 L1324.20 1706.23 L1324.60 1697.74 L1325.00 1707.92 L1325.40 1708.34 L1325.80 1711.65 L1326.20 1707.59 L1326.60 1709.56 L1327.00 1708.63 L1327.40 1712.68 L1327.80 1707.41 L1328.20 1712.35 L1328.60 1708.18 L1329.00 1714.49 L1329.40 1710.98 L1329.80 1710.17 L1330.20 1711.45 L1330.60 1719.50 L1331.00 1710.17 L1331.40 1711.28 L1331.80 1719.11 L1332.20 1714.62 L1332.60 1717.21 L1333.00 1717.99 L1333.40 1727.74 L1333.80 1719.56 L1334.20 1720.73 L1334.60 1723.22 L1335.00 1726.67 L1335.40 1729.13 L1335.80 1725.19 L1336.20 1732.52 L1336.60 1738.53 L1337.00 1730.24 L1337.40 1738.50 L1337.80 1740.88 L1338.20 1741.18 L1338.60 1742.17 L1339.00 1738.80 L1339.40 1748.94 L1339.80 1747.00 L1340.20 1748.76 L1340.60 1753.26 L1341.00 1746.72 L1341.40 1752.62 L1341.80 1754.88 L1342.20 1755.95 L1342.60 1756.52 L1343.00 1760.16 L1343.40 1757.37 L1343.80 1759.53 L1344.20 1759.72 L1344.60 1756.03 L1345.00 1758.04 L1345.40 1764.01 L1345.80 1760.14 L1346.20 1761.04 L1346.60 1759.23 L1347.00 1761.46 L1347.40 1760.11 L1347.80 1761.74 L1348.20 1764.14 L1348.60 1762.00 L1349.00 1762.70 L1349.40 1766.43 L1349.80 1765.20 L1350.20 1765.56 L1350.60 1766.65 L1351.00 1764.24 L1351.40 1764.75 L1351.80 1762.12 L1352.20 1767.05 L1352.60 1765.60 L1353.00 1766.06 L1353.40 1764.31 L1353.80 1767.24 L1354.20 1767.03 L1354.60 1764.57 L1355.00 1758.14 L1355.40 1755.06 L1355.80 1751.42 L1356.20 1743.67 L1356.60 1740.27 L1357.00 1732.65 L1357.40 1714.87 L1357.80 1703.04 L1358.20 1687.69 L1358.60 1678.68 L1359.00 1661.96 L1359.40 1648.94 L1359.80 1627.16 L1360.20 1610.70 L1360.60 1597.99 L1361.00 1584.00 L1361.40 1571.45 L1361.80 1559.89 L1362.20 1546.16 L1362.60 1535.21 L1363.00 1520.78 L1363.40 1512.46 L1363.80 1500.35 L1364.20 1488.99 L1364.60 1477.97 L1365.00 1469.33 L1365.40 1457.20 L1365.80 1448.96 L1366.20 1437.56 L1366.60 1428.69 L1367.00 1419.02 L1367.40 1410.34 L1367.80 1398.67 L1368.20 1389.81 L1368.60 1382.47 L1369.00 1377.72 L1369.40 1374.59 L1369.80 1374.50 L1370.20 1372.08 L1370.60 1368.19 L1371.00 1367.50 L1371.40 1364.92 L1371.80 1365.90 L1372.20 1364.73 L1372.60 1363.27 L1373.00 1361.53 L1373.40 1362.31 L1373.80 1361.55 L1374.20 1360.32 L1374.60 1360.97 L1375.00 1359.18 L1375.40 1361.98 L1375.80 1365.39 L1376.20 1371.48 L1376.60 1378.94 L1377.00 1383.81 L1377.40 1391.43 L1377.80 1396.80 L1378.20 1404.01 L1378.60 1414.03 L1379.00 1423.02 L1379.40 1433.90 L1379.80 1443.81 L1380.20 1452.49 L1380.60 1461.13 L1381.00 1474.98 L1381.40 1485.80 L1381.80 1497.88 L1382.20 1509.69 L1382.60 1521.31 L1383.00 1530.81 L1383.40 1538.77 L1383.80 1548.08 L1384.20 1551.83 L1384.60 1559.55 L1385.00 1564.57 L1385.40 1570.73 L1385.80 1577.43 L1386.20 1583.22 L1386.60 1586.81 L1387.00 1594.28 L1387.40 1597.25 L1387.80 1604.00 L1388.20 1607.88 L1388.60 1613.81 L1389.00 1618.42 L1389.40 1622.24 L1389.80 1628.43 L1390.20 1630.25 L1390.60 1635.02 L1391.00 1641.58 L1391.40 1650.02 L1391.80 1649.58 L1392.20 1654.00 L1392.60 1663.75 L1393.00 1662.96 L1393.40 1665.93 L1393.80 1665.48 L1394.20 1670.94 L1394.60 1674.57 L1395.00 1674.40 L1395.40 1678.72 L1395.80 1678.93 L1396.20 1682.80 L1396.60 1683.49 L1397.00 1681.59 L1397.40 1686.27 L1397.80 1690.75 L1398.20 1686.75 L1398.60 1682.53 L1399.00 1688.69 L1399.40 1688.47 L1399.80 1699.85 L1400.20 1694.42 L1400.60 1688.76 L1401.00 1693.45 L1401.40 1701.00 L1401.80 1692.19 L1402.20 1695.99 L1402.60 1699.11 L1403.00 1699.71 L1403.40 1699.14 L1403.80 1702.94 L1404.20 1698.19 L1404.60 1702.23 L1405.00 1703.00 L1405.40 1704.85 L1405.80 1705.57 L1406.20 1707.35 L1406.60 1706.81 L1407.00 1707.25 L1407.40 1710.68 L1407.80 1713.22 L1408.20 1714.06 L1408.60 1707.35 L1409.00 1712.81 L1409.40 1715.12 L1409.80 1712.24 L1410.20 1715.30 L1410.60 1713.52 L1411.00 1716.05 L1411.40 1710.22 L1411.80 1717.32 L1412.20 1714.66 L1412.60 1714.27 L1413.00 1716.12 L1413.40 1720.71 L1413.80 1720.93 L1414.20 1719.00 L1414.60 1721.30 L1415.00 1717.47 L1415.40 1715.03 L1415.80 1713.27 L1416.20 1719.34 L1416.60 1719.13 L1417.00 1719.86 L1417.40 1720.11 L1417.80 1723.91 L1418.20 1717.25 L1418.60 1717.85 L1419.00 1726.51 L1419.40 1722.99 L1419.80 1719.73 L1420.20 1714.37 L1420.60 1718.24 L1421.00 1719.90 L1421.40 1720.87 L1421.80 1721.84 L1422.20 1720.63 L1422.60 1725.04 L1423.00 1717.83 L1423.40 1720.75 L1423.80 1719.60 L1424.20 1724.23 L1424.60 1722.45 L1425.00 1724.44 L1425.40 1722.31 L1425.80 1733.82 L1426.20 1724.47 L1426.60 1719.97 L1427.00 1722.36 L1427.40 1721.21 L1427.80 1724.88 L1428.20 1725.60 L1428.60 1723.85 L1429.00 1722.18 L1429.40 1720.75 L1429.80 1727.83 L1430.20 1726.39 L1430.60 1713.98 L1431.00 1723.29 L1431.40 1720.55 L1431.80 1722.05 L1432.20 1728.47 L1432.60 1719.84 L1433.00 1720.19 L1433.40 1730.98 L1433.80 1722.05 L1434.20 1722.85 L1434.60 1727.14 L1435.00 1722.13 L1435.40 1723.86 L1435.80 1724.56 L1436.20 1728.18 L1436.60 1718.99 L1437.00 1721.45 L1437.40 1723.66 L1437.80 1726.89 L1438.20 1722.22 L1438.60 1725.64 L1439.00 1722.73 L1439.40 1723.16 L1439.80 1728.30 L1440.20 1723.77 L1440.60 1733.54 L1441.00 1725.71 L1441.40 1728.10 L1441.80 1727.00 L1442.20 1720.11 L1442.60 1720.23 L1443.00 1726.44 L1443.40 1721.70 L1443.80 1723.47 L1444.20 1724.19 L1444.60 1722.52 L1445.00 1728.92 L1445.40 1727.78 L1445.80 1726.05 L1446.20 1727.29 L1446.60 1722.96 L1447.00 1728.38 L1447.40 1723.29 L1447.80 1730.59 L1448.20 1724.00 L1448.60 1724.42 L1449.00 1729.63 L1449.40 1728.17 L1449.80 1723.47 L1450.20 1728.19 L1450.60 1726.47 L1451.00 1726.60 L1451.40 1728.47 L1451.80 1728.54 L1452.20 1729.81 L1452.60 1728.30 L1453.00 1727.92 L1453.40 1726.73 L1453.80 1731.53 L1454.20 1724.89 L1454.60 1732.90 L1455.00 1733.78 L1455.40 1733.81 L1455.80 1727.10 L1456.20 1733.77 L1456.60 1731.04 L1457.00 1730.89 L1457.40 1737.48 L1457.80 1728.49 L1458.20 1729.66 L1458.60 1724.39 L1459.00 1721.66 L1459.40 1729.07 L1459.80 1729.56 L1460.20 1730.45 L1460.60 1729.36 L1461.00 1722.76 L1461.40 1729.72 L1461.80 1731.97 L1462.20 1733.35 L1462.60 1726.12 L1463.00 1726.37 L1463.40 1727.02 L1463.80 1727.26 L1464.20 1724.50 L1464.60 1727.29 L1465.00 1733.91 L1465.40 1726.37 L1465.80 1724.12 L1466.20 1728.78 L1466.60 1728.21 L1467.00 1731.69 L1467.40 1727.69 L1467.80 1729.39 L1468.20 1727.58 L1468.60 1727.29 L1469.00 1731.21 L1469.40 1730.59 L1469.80 1730.17 L1470.20 1731.88 L1470.60 1728.14 L1471.00 1730.63 L1471.40 1731.24 L1471.80 1734.10 L1472.20 1725.46 L1472.60 1729.92 L1473.00 1732.27 L1473.40 1729.45 L1473.80 1731.43 L1474.20 1733.19 L1474.60 1732.69 L1475.00 1726.56 L1475.40 1728.11 L1475.80 1723.65 L1476.20 1733.50 L1476.60 1732.34 L1477.00 1735.61 L1477.40 1732.06 L1477.80 1728.80 L1478.20 1735.09 L1478.60 1728.48 L1479.00 1732.24 L1479.40 1731.76 L1479.80 1734.59 L1480.20 1735.04 L1480.60 1731.42 L1481.00 1730.64 L1481.40 1732.63 L1481.80 1731.25 L1482.20 1735.58 L1482.60 1734.09 L1483.00 1736.99 L1483.40 1740.44 L1483.80 1730.93 L1484.20 1731.76 L1484.60 1734.83 L1485.00 1734.72 L1485.40 1732.76 L1485.80 1729.10 L1486.20 1740.89 L1486.60 1734.25 L1487.00 1730.93 L1487.40 1727.67 L1487.80 1738.17 L1488.20 1735.36 L1488.60 1734.58 L1489.00 1731.86 L1489.40 1734.52 L1489.80 1733.87 L1490.20 1728.27 L1490.60 1742.41 L1491.00 1736.47 L1491.40 1734.47 L1491.80 1732.91 L1492.20 1734.00 L1492.60 1742.27 L1493.00 1736.93 L1493.40 1732.41 L1493.80 1738.50 L1494.20 1737.58 L1494.60 1737.79 L1495.00 1736.17 L1495.40 1736.23 L1495.80 1737.40 L1496.20 1736.44 L1496.60 1733.44 L1497.00 1734.72 L1497.40 1737.59 L1497.80 1733.57 L1498.20 1737.65 L1498.60 1737.41 L1499.00 1740.40 L1499.40 1739.18 L1499.80 1738.28 L1500.20 1738.66 L1500.60 1741.02 L1501.00 1742.88 L1501.40 1738.47 L1501.80 1738.12 L1502.20 1740.94 L1502.60 1738.07 L1503.00 1742.78 L1503.40 1747.66 L1503.80 1749.05 L1504.20 1751.40 L1504.60 1749.15 L1505.00 1750.51 L1505.40 1750.04 L1505.80 1751.38 L1506.20 1754.28 L1506.60 1756.72 L1507.00 1756.85 L1507.40 1753.08 L1507.80 1759.29 L1508.20 1759.57 L1508.60 1759.73 L1509.00 1762.41 L1509.40 1765.11 L1509.80 1765.14 L1510.20 1765.08 L1510.60 1773.28 L1511.00 1768.22 L1511.40 1771.45 L1511.80 1774.15 L1512.20 1772.56 L1512.60 1776.14 L1513.00 1775.81 L1513.40 1778.21 L1513.80 1779.23 L1514.20 1783.89 L1514.60 1781.93 L1515.00 1785.79 L1515.40 1787.07 L1515.80 1786.92 L1516.20 1792.45 L1516.60 1792.09 L1517.00 1794.31 L1517.40 1796.72 L1517.80 1797.56 L1518.20 1799.64 L1518.60 1802.31 L1519.00 1803.40 L1519.40 1806.27 L1519.80 1809.30 L1520.20 1808.93 L1520.60 1810.40 L1521.00 1814.01 L1521.40 1816.81 L1521.80 1819.41 L1522.20 1820.01 L1522.60 1821.06 L1523.00 1826.44 L1523.40 1828.35 L1523.80 1831.02 L1524.20 1830.24 L1524.60 1833.11 L1525.00 1834.60 L1525.40 1832.49 L1525.80 1835.65 L1526.20 1836.26 L1526.60 1835.65 L1527.00 1835.82 L1527.40 1836.20 L1527.80 1835.38 L1528.20 1834.36 L1528.60 1834.96 L1529.00 1835.76 L1529.40 1835.14 L1529.80 1836.71 L1530.20 1833.30 L1530.60 1829.91 L1531.00 1823.31 L1531.40 1819.52 L1531.80 1811.94 L1532.20 1807.41 L1532.60 1797.62 L1533.00 1792.09 L1533.40 1782.57 L1533.80 1772.80 L1534.20 1765.97 L1534.60 1754.10 L1535.00 1738.80 L1535.40 1733.14 L1535.80 1713.90 L1536.20 1705.25 L1536.60 1681.81 L1537.00 1672.84 L1537.40 1659.27 L1537.80 1646.30 L1538.20 1632.10 L1538.60 1620.66 L1539.00 1612.14 L1539.40 1601.76 L1539.80 1590.55 L1540.20 1579.91 L1540.60 1568.92 L1541.00 1560.72 L1541.40 1551.36 L1541.80 1542.36 L1542.20 1534.63 L1542.60 1526.30 L1543.00 1518.48 L1543.40 1510.12 L1543.80 1502.18 L1544.20 1495.79 L1544.60 1489.03 L1545.00 1481.04 L1545.40 1475.65 L1545.80 1468.07 L1546.20 1462.12 L1546.60 1458.56 L1547.00 1455.35 L1547.40 1454.05 L1547.80 1450.61 L1548.20 1449.24 L1548.60 1448.32 L1549.00 1445.70 L1549.40 1445.24 L1549.80 1444.34 L1550.20 1447.49 L1550.60 1449.59 L1551.00 1453.08 L1551.40 1455.52 L1551.80 1459.24 L1552.20 1463.54 L1552.60 1468.84 L1553.00 1474.80 L1553.40 1477.72 L1553.80 1485.23 L1554.20 1492.66 L1554.60 1503.33 L1555.00 1509.64 L1555.40 1518.40 L1555.80 1528.91 L1556.20 1536.33 L1556.60 1546.94 L1557.00 1553.33 L1557.40 1564.85 L1557.80 1569.90 L1558.20 1575.55 L1558.60 1579.99 L1559.00 1586.18 L1559.40 1591.21 L1559.80 1594.99 L1560.20 1601.22 L1560.60 1603.89 L1561.00 1608.25 L1561.40 1612.24 L1561.80 1617.17 L1562.20 1618.43 L1562.60 1622.32 L1563.00 1625.81 L1563.40 1629.39 L1563.80 1628.12 L1564.20 1636.21 L1564.60 1636.59 L1565.00 1638.00 L1565.40 1641.89 L1565.80 1640.22 L1566.20 1644.97 L1566.60 1649.34 L1567.00 1654.27 L1567.40 1652.87 L1567.80 1656.01 L1568.20 1656.11 L1568.60 1660.83 L1569.00 1659.11 L1569.40 1662.93 L1569.80 1662.18 L1570.20 1661.77 L1570.60 1663.01 L1571.00 1665.32 L1571.40 1671.96 L1571.80 1679.49 L1572.20 1670.78 L1572.60 1670.65 L1573.00 1676.23 L1573.40 1677.98 L1573.80 1676.83 L1574.20 1687.36 L1574.60 1686.43 L1575.00 1689.80 L1575.40 1688.77 L1575.80 1691.48 L1576.20 1697.39 L1576.60 1689.05 L1577.00 1693.23 L1577.40 1698.47 L1577.80 1692.27 L1578.20 1706.42 L1578.60 1696.48 L1579.00 1697.50 L1579.40 1701.00 L1579.80 1706.39 L1580.20 1699.63 L1580.60 1696.54 L1581.00 1695.91 L1581.40 1701.16 L1581.80 1697.66 L1582.20 1710.78 L1582.60 1705.91 L1583.00 1686.44 L1583.40 1696.37 L1583.80 1702.07 L1584.20 1710.74 L1584.60 1691.68 L1585.00 1698.65 L1585.40 1705.93 L1585.80 1697.59 L1586.20 1700.98 L1586.60 1698.48 L1587.00 1703.65 L1587.40 1695.88 L1587.80 1700.84 L1588.20 1694.35 L1588.60 1705.06 L1589.00 1703.44 L1589.40 1700.64 L1589.80 1700.98 L1590.20 1700.95 L1590.60 1699.22 L1591.00 1701.54 L1591.40 1702.48 L1591.80 1700.58 L1592.20 1698.28 L1592.60 1699.12 L1593.00 1698.90 L1593.40 1702.92 L1593.80 1701.61 L1594.20 1709.60 L1594.60 1700.19 L1595.00 1701.29 L1595.40 1698.20 L1595.80 1701.41 L1596.20 1699.02 L1596.60 1697.21 L1597.00 1701.69 L1597.40 1707.97 L1597.80 1697.19 L1598.20 1698.14 L1598.60 1700.82 L1599.00 1702.11 L1599.40 1706.70 L1599.80 1698.15 L1600.20 1700.38 L1600.60 1697.50 L1601.00 1697.14 L1601.40 1698.90 L1601.80 1696.07 L1602.20 1702.92 L1602.60 1705.56 L1603.00 1698.67 L1603.40 1697.85 L1603.80 1706.73 L1604.20 1699.98 L1604.60 1707.43 L1605.00 1688.21 L1605.40 1700.18 L1605.80 1696.43 L1606.20 1698.55 L1606.60 1704.43 L1607.00 1705.64 L1607.40 1700.13 L1607.80 1705.00 L1608.20 1695.97 L1608.60 1702.08 L1609.00 1700.21 L1609.40 1693.42 L1609.80 1704.84 L1610.20 1697.93 L1610.60 1702.78 L1611.00 1697.53 L1611.40 1701.66 L1611.80 1703.58 L1612.20 1700.88 L1612.60 1698.80 L1613.00 1703.55 L1613.40 1701.83 L1613.80 1699.06 L1614.20 1701.10 L1614.60 1700.55 L1615.00 1699.42 L1615.40 1704.87 L1615.80 1708.54 L1616.20 1698.68 L1616.60 1700.40 L1617.00 1696.80 L1617.40 1695.08 L1617.80 1705.90 L1618.20 1697.98 L1618.60 1702.42 L1619.00 1694.99 L1619.40 1698.13 L1619.80 1703.01 L1620.20 1703.01 L1620.60 1701.96 L1621.00 1702.72 L1621.40 1701.88 L1621.80 1705.33 L1622.20 1708.38 L1622.60 1703.40 L1623.00 1700.44 L1623.40 1696.42 L1623.80 1698.80 L1624.20 1699.51 L1624.60 1707.24 L1625.00 1694.14 L1625.40 1697.35 L1625.80 1696.07 L1626.20 1704.04 L1626.60 1696.63 L1627.00 1690.91 L1627.40 1689.15 L1627.80 1698.93 L1628.20 1689.40 L1628.60 1700.60 L1629.00 1699.42 L1629.40 1688.83 L1629.80 1691.28 L1630.20 1691.82 L1630.60 1684.41 L1631.00 1684.59 L1631.40 1686.21 L1631.80 1687.83 L1632.20 1688.32 L1632.60 1678.84 L1633.00 1686.87 L1633.40 1684.95 L1633.80 1684.00 L1634.20 1683.02 L1634.60 1688.96 L1635.00 1691.42 L1635.40 1683.93 L1635.80 1686.04 L1636.20 1681.36 L1636.60 1687.57 L1637.00 1693.62 L1637.40 1691.77 L1637.80 1695.24 L1638.20 1694.62 L1638.60 1696.81 L1639.00 1700.43 L1639.40 1701.69 L1639.80 1690.05 L1640.20 1697.94 L1640.60 1686.05 L1641.00 1699.18 L1641.40 1696.78 L1641.80 1696.67 L1642.20 1706.32 L1642.60 1701.07 L1643.00 1704.58 L1643.40 1702.42 L1643.80 1707.19 L1644.20 1698.71 L1644.60 1698.75 L1645.00 1699.53 L1645.40 1710.83 L1645.80 1698.14 L1646.20 1700.25 L1646.60 1706.26 L1647.00 1704.32 L1647.40 1698.11 L1647.80 1708.04 L1648.20 1702.51 L1648.60 1706.82 L1649.00 1703.15 L1649.40 1703.95 L1649.80 1697.29 L1650.20 1706.85 L1650.60 1697.55 L1651.00 1701.01 L1651.40 1705.48 L1651.80 1699.24 L1652.20 1701.28 L1652.60 1700.82 L1653.00 1701.50 L1653.40 1703.42 L1653.80 1694.27 L1654.20 1698.57 L1654.60 1709.96 L1655.00 1692.33 L1655.40 1698.12 L1655.80 1704.44 L1656.20 1692.87 L1656.60 1697.18 L1657.00 1697.44 L1657.40 1707.85 L1657.80 1697.17 L1658.20 1703.76 L1658.60 1698.23 L1659.00 1701.04 L1659.40 1696.03 L1659.80 1694.54 L1660.20 1698.94 L1660.60 1694.95 L1661.00 1700.19 L1661.40 1701.46 L1661.80 1702.70 L1662.20 1707.56 L1662.60 1707.03 L1663.00 1695.87 L1663.40 1697.35 L1663.80 1708.00 L1664.20 1700.22 L1664.60 1698.65 L1665.00 1704.96 L1665.40 1697.35 L1665.80 1704.10 L1666.20 1698.49 L1666.60 1705.42 L1667.00 1698.87 L1667.40 1702.99 L1667.80 1703.88 L1668.20 1706.18 L1668.60 1695.21 L1669.00 1696.84 L1669.40 1691.98 L1669.80 1690.37 L1670.20 1695.59 L1670.60 1697.92 L1671.00 1701.82 L1671.40 1693.25 L1671.80 1702.01 L1672.20 1693.03 L1672.60 1694.48 L1673.00 1688.22 L1673.40 1682.74 L1673.80 1693.21 L1674.20 1684.65 L1674.60 1689.68 L1675.00 1683.51 L1675.40 1687.58 L1675.80 1685.21 L1676.20 1685.43 L1676.60 1687.50 L1677.00 1692.46 L1677.40 1686.11 L1677.80 1688.76 L1678.20 1699.00 L1678.60 1693.13 L1679.00 1698.79 L1679.40 1693.36 L1679.80 1699.55 L1680.20 1706.18 L1680.60 1702.48 L1681.00 1703.68 L1681.40 1701.68 L1681.80 1704.32 L1682.20 1696.79 L1682.60 1697.89 L1683.00 1706.98 L1683.40 1698.21 L1683.80 1711.54 L1684.20 1710.01 L1684.60 1701.88 L1685.00 1698.30 L1685.40 1697.85 L1685.80 1709.68 L1686.20 1708.64 L1686.60 1715.19 L1687.00 1712.40 L1687.40 1717.61 L1687.80 1715.84 L1688.20 1709.90 L1688.60 1715.00 L1689.00 1715.46 L1689.40 1720.95 L1689.80 1724.12 L1690.20 1729.20 L1690.60 1737.44 L1691.00 1735.82 L1691.40 1737.27 L1691.80 1741.32 L1692.20 1744.46 L1692.60 1747.01 L1693.00 1750.58 L1693.40 1752.40 L1693.80 1757.50 L1694.20 1758.41 L1694.60 1755.72 L1695.00 1758.62 L1695.40 1757.08 L1695.80 1750.05 L1696.20 1742.53 L1696.60 1739.12 L1697.00 1730.46 L1697.40 1723.97 L1697.80 1709.90 L1698.20 1707.72 L1698.60 1682.06 L1699.00 1665.71 L1699.40 1644.34 L1699.80 1628.79 L1700.20 1611.12 L1700.60 1597.79 L1701.00 1582.01 L1701.40 1571.46 L1701.80 1556.56 L1702.20 1545.78 L1702.60 1540.26 L1703.00 1531.32 L1703.40 1524.73 L1703.80 1520.17 L1704.20 1515.65 L1704.60 1514.01 L1705.00 1515.64 L1705.40 1516.54 L1705.80 1524.67 L1706.20 1530.54 L1706.60 1537.13 L1707.00 1538.97 L1707.40 1545.60 L1707.80 1551.58 L1708.20 1559.76 L1708.60 1564.87 L1709.00 1572.51 L1709.40 1577.93 L1709.80 1583.80 L1710.20 1590.32 L1710.60 1598.39 L1711.00 1608.21 L1711.40 1614.75 L1711.80 1622.52 L1712.20 1635.19 L1712.60 1646.38 L1713.00 1656.84 L1713.40 1661.18 L1713.80 1667.47 L1714.20 1665.78 L1714.60 1675.81 L1715.00 1680.69 L1715.40 1686.21 L1715.80 1684.90 L1716.20 1693.29 L1716.60 1697.04 L1717.00 1694.62 L1717.40 1694.75 L1717.80 1698.12 L1718.20 1700.21 L1718.60 1703.00 L1719.00 1697.75 L1719.40 1707.44 L1719.80 1702.92 L1720.20 1702.84 L1720.60 1706.63 L1721.00 1701.98 L1721.40 1708.26 L1721.80 1713.33 L1722.20 1707.46 L1722.60 1706.99 L1723.00 1704.85 L1723.40 1712.31 L1723.80 1711.30 L1724.20 1702.04 L1724.60 1711.25 L1725.00 1705.61 L1725.40 1704.03 L1725.80 1708.20 L1726.20 1706.33 L1726.60 1713.03 L1727.00 1704.66 L1727.40 1704.79 L1727.80 1706.23 L1728.20 1709.31 L1728.60 1712.12 L1729.00 1706.48 L1729.40 1708.03 L1729.80 1705.36 L1730.20 1710.44 L1730.60 1707.88 L1731.00 1719.22 L1731.40 1718.65 L1731.80 1709.09 L1732.20 1713.05 L1732.60 1714.30 L1733.00 1711.29 L1733.40 1712.10 L1733.80 1715.89 L1734.20 1713.09 L1734.60 1713.29 L1735.00 1714.49 L1735.40 1719.04 L1735.80 1714.33 L1736.20 1716.80 L1736.60 1716.61 L1737.00 1718.51 L1737.40 1715.82 L1737.80 1715.18 L1738.20 1714.88 L1738.60 1718.23 L1739.00 1718.21 L1739.40 1717.22 L1739.80 1719.06 L1740.20 1726.27 L1740.60 1721.46 L1741.00 1713.33 L1741.40 1723.70 L1741.80 1720.32 L1742.20 1716.99 L1742.60 1724.86 L1743.00 1720.77 L1743.40 1724.67 L1743.80 1720.06 L1744.20 1725.80 L1744.60 1722.25 L1745.00 1726.71 L1745.40 1727.12 L1745.80 1722.38 L1746.20 1728.42 L1746.60 1730.46 L1747.00 1730.95 L1747.40 1728.45 L1747.80 1736.51 L1748.20 1737.50 L1748.60 1744.01 L1749.00 1741.23 L1749.40 1748.93 L1749.80 1749.84 L1750.20 1757.92 L1750.60 1753.97 L1751.00 1761.74 L1751.40 1763.24 L1751.80 1767.03 L1752.20 1774.49 L1752.60 1777.92 L1753.00 1782.25 L1753.40 1783.24 L1753.80 1788.20 L1754.20 1794.42 L1754.60 1797.27 L1755.00 1803.05 L1755.40 1806.17 L1755.80 1805.96 L1756.20 1806.21 L1756.60 1805.27 L1757.00 1803.20 L1757.40 1800.93 L1757.80 1797.58 L1758.20 1794.51 L1758.60 1789.37 L1759.00 1779.70 L1759.40 1765.61 L1759.80 1748.00 L1760.20 1732.21 L1760.60 1719.23 L1761.00 1710.49 L1761.40 1681.99 L1761.80 1668.98 L1762.20 1659.67 L1762.60 1648.33 L1763.00 1637.28 L1763.40 1630.01 L1763.80 1615.43 L1764.20 1610.07 L1764.60 1603.58 L1765.00 1599.90 L1765.40 1596.84 L1765.80 1592.62 L1766.20 1595.07 L1766.60 1595.87 L1767.00 1600.01 L1767.40 1604.52 L1767.80 1610.25 L1768.20 1614.97 L1768.60 1622.53 L1769.00 1624.58 L1769.40 1633.02 L1769.80 1639.33 L1770.20 1641.95 L1770.60 1649.12 L1771.00 1650.69 L1771.40 1658.38 L1771.80 1661.24 L1772.20 1673.06 L1772.60 1670.38 L1773.00 1674.36 L1773.40 1680.29 L1773.80 1680.33 L1774.20 1684.02 L1774.60 1687.82 L1775.00 1691.14 L1775.40 1687.13 L1775.80 1690.69 L1776.20 1690.93 L1776.60 1695.17 L1777.00 1696.58 L1777.40 1695.87 L1777.80 1696.12 L1778.20 1702.65 L1778.60 1693.05 L1779.00 1703.28 L1779.40 1699.51 L1779.80 1691.85 L1780.20 1698.68 L1780.60 1693.01 L1781.00 1698.35 L1781.40 1691.30 L1781.80 1702.25 L1782.20 1696.69 L1782.60 1706.33 L1783.00 1697.48 L1783.40 1700.70 L1783.80 1695.54 L1784.20 1700.42 L1784.60 1701.25 L1785.00 1702.02 L1785.40 1705.21 L1785.80 1704.03 L1786.20 1702.76 L1786.60 1701.09 L1787.00 1701.17 L1787.40 1701.13 L1787.80 1700.27 L1788.20 1702.60 L1788.60 1701.44 L1789.00 1702.29 L1789.40 1701.03 L1789.80 1701.93 L1790.20 1704.01 L1790.60 1701.74 L1791.00 1702.54 L1791.40 1699.68 L1791.80 1700.67 L1792.20 1700.21 L1792.60 1701.48 L1793.00 1701.05 L1793.40 1699.42 L1793.80 1700.92 L1794.20 1700.46 L1794.60 1697.69 L1795.00 1700.00 L1795.40 1701.81 L1795.80 1698.44 L1796.20 1701.46 L1796.60 1700.75 L1797.00 1699.83 L1797.40 1700.18 L1797.80 1698.13 L1798.20 1700.45 L1798.60 1697.02 L1799.00 1697.45 L1799.40 1700.04 L1799.80 1697.41 L1800.20 1702.33 L1800.60 1699.66 L1801.00 1700.54 L1801.40 1700.63 L1801.80 1698.45 L1802.20 1699.10 L1802.60 1699.79 L1803.00 1699.03 L1803.40 1701.51 L1803.80 1700.63 L1804.20 1699.32 L1804.60 1700.97 L1805.00 1699.06 L1805.40 1700.16 L1805.80 1699.17 L1806.20 1698.46 L1806.60 1697.38 L1807.00 1697.71 L1807.40 1698.91 L1807.80 1699.49 L1808.20 1695.39 L1808.60 1698.11 L1809.00 1699.66 L1809.40 1698.46 L1809.80 1696.94 L1810.20 1697.06 L1810.60 1701.33 L1811.00 1696.09 L1811.40 1698.08 L1811.80 1699.91 L1812.20 1695.39 L1812.60 1699.63 L1813.00 1696.06 L1813.40 1700.13 L1813.80 1702.75 L1814.20 1696.49 L1814.60 1698.36 L1815.00 1699.04 L1815.40 1697.53 L1815.80 1699.29 L1816.20 1697.27 L1816.60 1697.49 L1817.00 1697.07 L1817.40 1698.28 L1817.80 1699.10 L1818.20 1699.88 L1818.60 1698.14 L1819.00 1696.59 L1819.40 1697.51 L1819.80 1697.44 L1820.20 1697.63 L1820.60 1699.17 L1821.00 1698.00 L1821.40 1698.35 L1821.80 1698.27 L1822.20 1698.03 L1822.60 1697.40 L1823.00 1699.31 L1823.40 1697.98 L1823.80 1697.93 L1824.20 1696.30 L1824.60 1696.95 L1825.00 1697.10 L1825.40 1698.96 L1825.80 1695.23 L1826.20 1699.18 L1826.60 1698.19 L1827.00 1696.84 L1827.40 1696.60 L1827.80 1698.77 L1828.20 1698.28 L1828.60 1694.76 L1829.00 1696.81 L1829.40 1696.44 L1829.80 1697.77 L1830.20 1696.86 L1830.60 1698.60 L1831.00 1697.02 L1831.40 1697.40 L1831.80 1699.81 L1832.20 1697.43 L1832.60 1697.01 L1833.00 1697.85 L1833.40 1695.71 L1833.80 1695.22 L1834.20 1697.71 L1834.60 1696.80 L1835.00 1695.45 L1835.40 1699.19 L1835.80 1698.79 L1836.20 1698.04 L1836.60 1696.82 L1837.00 1697.34 L1837.40 1696.73 L1837.80 1699.01 L1838.20 1695.33 L1838.60 1698.05 L1839.00 1697.63 L1839.40 1695.79 L1839.80 1698.57 L1840.20 1697.03 L1840.60 1700.54 L1841.00 1699.42 L1841.40 1697.46 L1841.80 1696.94 L1842.20 1696.44 L1842.60 1696.37 L1843.00 1698.01 L1843.40 1695.22 L1843.80 1699.04 L1844.20 1698.59 L1844.60 1697.26 L1845.00 1698.66 L1845.40 1701.12 L1845.80 1697.92 L1846.20 1700.18 L1846.60 1696.96 L1847.00 1696.46 L1847.40 1699.01 L1847.80 1694.36 L1848.20 1698.93 L1848.60 1697.39 L1849.00 1696.62 L1849.40 1697.51 L1849.80 1697.55 L1850.20 1699.35 L1850.60 1698.70 L1851.00 1697.67 L1851.40 1696.99 L1851.80 1695.83 L1852.20 1697.64 L1852.60 1693.22 L1853.00 1698.85 L1853.40 1697.31 L1853.80 1694.66 L1854.20 1698.19 L1854.60 1695.87 L1855.00 1696.54 L1855.40 1694.43 L1855.80 1696.08 L1856.20 1697.52 L1856.60 1697.12 L1857.00 1697.71 L1857.40 1696.08 L1857.80 1698.13 L1858.20 1694.87 L1858.60 1696.32 L1859.00 1693.00 L1859.40 1696.72 L1859.80 1696.33 L1860.20 1696.88 L1860.60 1698.09 L1861.00 1699.26 L1861.40 1695.30 L1861.80 1696.78 L1862.20 1694.05 L1862.60 1700.06 L1863.00 1699.21 L1863.40 1697.88 L1863.80 1699.07 L1864.20 1698.50 L1864.60 1696.13 L1865.00 1698.28 L1865.40 1699.00 L1865.80 1698.41 L1866.20 1696.99 L1866.60 1696.51 L1867.00 1700.89 L1867.40 1697.55 L1867.80 1697.99 L1868.20 1694.89 L1868.60 1698.20 L1869.00 1697.50 L1869.40 1695.73 L1869.80 1699.15 L1870.20 1697.09 L1870.60 1698.12 L1871.00 1697.82 L1871.40 1695.98 L1871.80 1697.54 L1872.20 1699.28 L1872.60 1695.32 L1873.00 1695.43 L1873.40 1695.62 L1873.80 1698.24 L1874.20 1696.33 L1874.60 1697.53 L1875.00 1698.87 L1875.40 1695.27 L1875.80 1699.39 L1876.20 1697.10 L1876.60 1696.77 L1877.00 1699.47 L1877.40 1697.77 L1877.80 1694.95 L1878.20 1696.94 L1878.60 1695.81 L1879.00 1697.45 L1879.40 1696.28 L1879.80 1696.49 L1880.20 1698.55 L1880.60 1694.34 L1881.00 1697.47 L1881.40 1696.65 L1881.80 1697.53 L1882.20 1693.25 L1882.60 1695.50 L1883.00 1696.37 L1883.40 1699.64 L1883.80 1695.02 L1884.20 1695.23 L1884.60 1696.71 L1885.00 1697.51 L1885.40 1696.03 L1885.80 1697.14 L1886.20 1694.41 L1886.60 1699.69 L1887.00 1696.47 L1887.40 1697.21 L1887.80 1701.29 L1888.20 1696.11 L1888.60 1695.03 L1889.00 1695.43 L1889.40 1699.65 L1889.80 1696.70 L1890.20 1695.76 L1890.60 1696.94" fill="none" stroke="#a32b19" stroke-width="4.8" stroke-linejoin="round"/>
<text x="1441.74" y="1402.20" font-size="49.00" font-weight="bold" textLength="52.21" lengthAdjust="spacingAndGlyphs">3a</text>
<text x="1768.67" y="1546.90" font-size="49.00" font-weight="bold" textLength="58.54" lengthAdjust="spacingAndGlyphs">3b</text>
<line x1="1381.80" y1="1359.90" x2="1436.30" y2="1382.20" stroke="#231f20" stroke-width="5.4" stroke-dasharray="12.22 11.11"/>
<line x1="1493.00" y1="1411.60" x2="1541.00" y2="1439.90" stroke="#231f20" stroke-width="5.4" stroke-dasharray="11.56 10.51"/>
<line x1="1708.30" y1="1508.80" x2="1762.40" y2="1521.00" stroke="#231f20" stroke-width="5.4" stroke-dasharray="11.51 10.46"/>
<line x1="1768.50" y1="1551.80" x2="1771.00" y2="1591.00" stroke="#231f20" stroke-width="5.2" stroke-dasharray="8.73 6.55"/>
</svg>
</body></html>
